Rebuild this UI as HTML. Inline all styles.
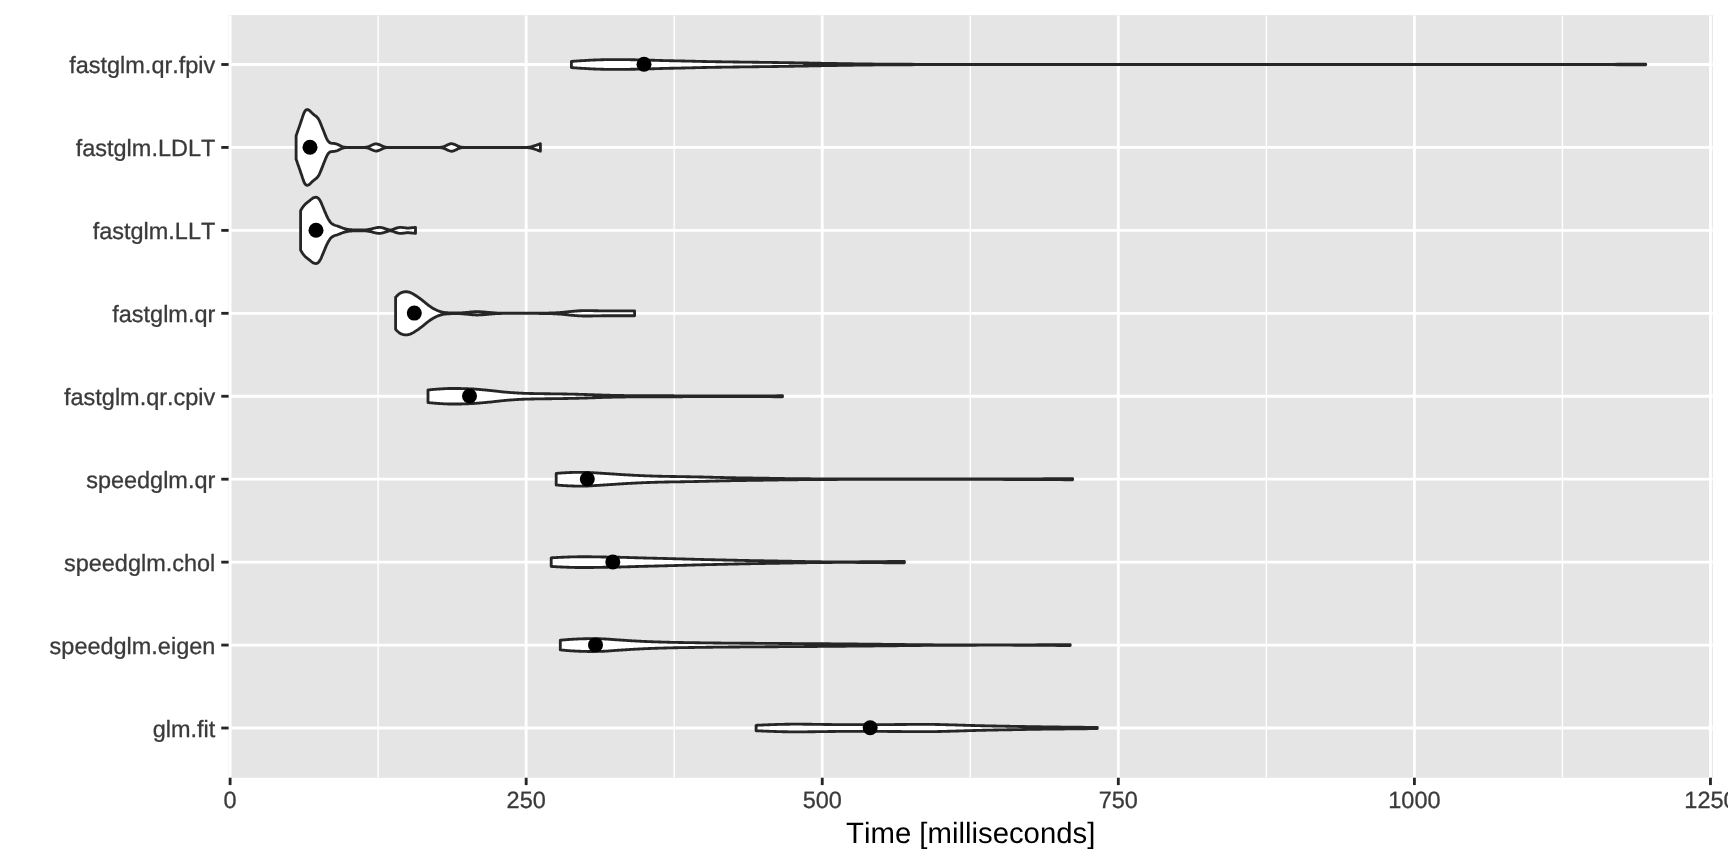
<!DOCTYPE html>
<html lang="en">
<head>
<meta charset="utf-8">
<title>Time [milliseconds]</title>
<style>
html,body{margin:0;padding:0;background:#fff;}
body{width:1728px;height:864px;overflow:hidden;}
svg{display:block;will-change:transform;}
text{font-family:"Liberation Sans","Helvetica","Arial",sans-serif;font-kerning:none;font-variant-ligatures:none;text-rendering:geometricPrecision;}
.ax{font-size:23.47px;fill:#3A3A3A;stroke:#3A3A3A;stroke-width:0.3px;}
.ttl{font-size:29.33px;fill:#000;}
</style>
</head>
<body>
<svg width="1728" height="864" viewBox="0 0 1728 864">
<rect x="0" y="0" width="1728" height="864" fill="#fff"/>
<rect x="228.6" y="15.15" width="1484.2" height="762.6" fill="#E5E5E5"/>
<defs><clipPath id="pc"><rect x="228.6" y="15.15" width="1484.2" height="762.6"/></clipPath></defs>
<g clip-path="url(#pc)">
<g stroke="#fff" stroke-width="1.42" fill="none">
<line x1="378.14" y1="15.15" x2="378.14" y2="777.75"/>
<line x1="674.21" y1="15.15" x2="674.21" y2="777.75"/>
<line x1="970.29" y1="15.15" x2="970.29" y2="777.75"/>
<line x1="1266.36" y1="15.15" x2="1266.36" y2="777.75"/>
<line x1="1562.44" y1="15.15" x2="1562.44" y2="777.75"/>
</g>
<g stroke="#fff" stroke-width="2.84" fill="none">
<line x1="230.10" y1="15.15" x2="230.10" y2="777.75"/>
<line x1="526.17" y1="15.15" x2="526.17" y2="777.75"/>
<line x1="822.25" y1="15.15" x2="822.25" y2="777.75"/>
<line x1="1118.32" y1="15.15" x2="1118.32" y2="777.75"/>
<line x1="1414.40" y1="15.15" x2="1414.40" y2="777.75"/>
<line x1="1710.47" y1="15.15" x2="1710.47" y2="777.75"/>
<line x1="228.6" y1="64.50" x2="1712.85" y2="64.50"/>
<line x1="228.6" y1="147.44" x2="1712.85" y2="147.44"/>
<line x1="228.6" y1="230.38" x2="1712.85" y2="230.38"/>
<line x1="228.6" y1="313.32" x2="1712.85" y2="313.32"/>
<line x1="228.6" y1="396.26" x2="1712.85" y2="396.26"/>
<line x1="228.6" y1="479.20" x2="1712.85" y2="479.20"/>
<line x1="228.6" y1="562.14" x2="1712.85" y2="562.14"/>
<line x1="228.6" y1="645.08" x2="1712.85" y2="645.08"/>
<line x1="228.6" y1="728.02" x2="1712.85" y2="728.02"/>
</g>
<g fill="#fff" stroke="#262626" stroke-width="2.84" stroke-linejoin="round" stroke-linecap="round">
<path d="M571.4 61.40 572.2 61.34 573.0 61.28 573.8 61.22 574.6 61.17 575.4 61.11 576.2 61.05 577.0 61.00 577.8 60.94 578.6 60.89 579.4 60.84 580.2 60.79 581.0 60.74 581.8 60.69 582.6 60.64 583.4 60.59 584.2 60.55 585.0 60.50 585.0 60.50 585.8 60.46 586.5 60.41 587.4 60.37 588.1 60.33 589.0 60.28 589.7 60.24 590.5 60.20 591.3 60.15 592.1 60.11 592.9 60.07 593.7 60.04 594.5 60.00 595.3 59.96 596.1 59.93 596.9 59.90 597.7 59.87 598.5 59.84 599.3 59.82 600.0 59.80 600.1 59.80 600.9 59.78 601.7 59.76 602.5 59.74 603.3 59.72 604.1 59.70 604.9 59.68 605.7 59.66 606.5 59.64 607.3 59.62 608.1 59.61 608.9 59.60 609.7 59.58 610.5 59.57 611.3 59.56 612.1 59.56 612.9 59.55 613.7 59.55 614.0 59.55 614.5 59.55 615.3 59.55 616.1 59.55 616.9 59.56 617.7 59.56 618.5 59.57 619.2 59.57 620.0 59.58 620.9 59.59 621.6 59.59 622.4 59.60 623.2 59.61 624.0 59.62 624.8 59.63 625.6 59.64 626.4 59.65 627.2 59.66 628.0 59.67 628.8 59.68 629.6 59.69 630.0 59.70 630.4 59.71 631.2 59.72 632.0 59.73 632.8 59.74 633.6 59.76 634.4 59.77 635.2 59.79 636.0 59.81 636.8 59.83 637.6 59.84 638.4 59.86 639.2 59.88 640.0 59.90 640.8 59.92 641.6 59.94 642.4 59.96 643.2 59.98 644.0 60.00 644.0 60.00 644.8 60.02 645.6 60.04 646.4 60.06 647.2 60.08 648.0 60.10 648.8 60.13 649.6 60.15 650.4 60.17 651.1 60.20 652.0 60.22 652.8 60.24 653.5 60.27 654.3 60.29 655.1 60.32 655.9 60.34 656.7 60.37 657.5 60.39 658.3 60.41 659.1 60.44 659.9 60.46 660.7 60.48 661.5 60.51 662.3 60.53 663.1 60.55 663.9 60.57 664.7 60.59 665.0 60.60 665.5 60.61 666.3 60.63 667.1 60.65 667.9 60.67 668.7 60.69 669.5 60.71 670.3 60.72 671.1 60.74 671.9 60.76 672.7 60.78 673.5 60.79 674.3 60.81 675.1 60.83 675.9 60.85 676.7 60.86 677.5 60.88 678.3 60.90 679.1 60.91 679.9 60.93 680.7 60.95 681.5 60.96 682.3 60.98 683.1 61.00 683.9 61.01 684.6 61.03 685.5 61.05 686.2 61.06 687.0 61.08 687.8 61.10 688.6 61.12 689.4 61.14 690.0 61.15 690.2 61.16 691.0 61.17 691.8 61.19 692.6 61.22 693.4 61.24 694.2 61.26 695.0 61.28 695.8 61.30 696.6 61.32 697.4 61.34 698.2 61.36 699.0 61.38 699.8 61.40 700.6 61.42 701.4 61.44 702.2 61.46 703.0 61.48 703.8 61.50 704.0 61.50 704.6 61.51 705.4 61.53 706.2 61.54 707.0 61.56 707.8 61.57 708.6 61.59 709.4 61.60 710.2 61.61 711.0 61.63 711.8 61.64 712.6 61.65 713.4 61.67 714.2 61.68 715.0 61.69 715.8 61.71 716.5 61.72 717.4 61.73 718.1 61.74 719.0 61.76 719.7 61.77 720.5 61.78 721.3 61.79 722.1 61.80 722.9 61.81 723.7 61.83 724.5 61.84 725.3 61.85 726.1 61.86 726.9 61.87 727.7 61.88 728.5 61.89 729.3 61.90 730.1 61.91 730.9 61.93 731.7 61.94 732.5 61.95 733.3 61.96 734.1 61.97 734.9 61.98 735.7 61.99 736.5 62.00 737.3 62.01 738.1 62.02 738.9 62.03 739.7 62.05 740.0 62.05 740.5 62.06 741.3 62.07 742.1 62.08 742.9 62.09 743.7 62.10 744.5 62.11 745.3 62.12 746.1 62.13 746.9 62.14 747.7 62.15 748.5 62.16 749.2 62.17 750.0 62.18 750.9 62.19 751.6 62.20 752.4 62.21 753.2 62.22 754.0 62.23 754.8 62.24 755.6 62.25 756.4 62.26 757.2 62.27 758.0 62.28 758.8 62.29 759.6 62.30 760.4 62.31 761.2 62.32 762.0 62.33 762.8 62.34 763.6 62.35 764.4 62.36 765.2 62.37 766.0 62.38 766.8 62.39 767.6 62.40 768.4 62.41 769.2 62.42 770.0 62.43 770.8 62.44 771.6 62.45 772.4 62.46 773.2 62.47 774.0 62.49 774.8 62.50 775.0 62.50 775.6 62.51 776.4 62.52 777.2 62.53 778.0 62.54 778.8 62.55 779.6 62.57 780.4 62.58 781.1 62.59 782.0 62.60 782.8 62.62 783.5 62.63 784.3 62.64 785.1 62.65 785.9 62.67 786.7 62.68 787.5 62.69 788.3 62.70 789.1 62.72 789.9 62.73 790.7 62.74 791.5 62.75 792.3 62.77 793.1 62.78 793.9 62.79 794.7 62.81 795.5 62.82 796.3 62.83 797.1 62.85 797.9 62.86 798.7 62.87 799.5 62.89 800.3 62.90 801.1 62.92 801.9 62.93 802.7 62.94 803.5 62.96 804.3 62.97 805.1 62.98 805.9 63.00 806.0 63.00 806.7 63.01 807.5 63.03 808.3 63.04 809.1 63.06 809.9 63.07 810.7 63.08 811.5 63.10 812.3 63.12 813.1 63.13 813.9 63.15 814.6 63.16 815.5 63.18 816.2 63.19 817.0 63.21 817.8 63.22 818.6 63.24 819.4 63.26 820.2 63.27 821.0 63.29 821.8 63.30 822.6 63.32 823.4 63.33 824.2 63.35 825.0 63.36 825.8 63.38 826.6 63.39 827.4 63.41 828.2 63.42 829.0 63.43 829.8 63.45 830.0 63.45 830.6 63.46 831.4 63.47 835.4 63.54 839.4 63.61 843.4 63.67 847.4 63.73 851.4 63.79 855.4 63.84 859.3 63.89 860.0 63.90 863.3 63.94 867.3 63.98 871.3 64.02 875.3 64.05 879.3 64.09 883.3 64.12 887.3 64.15 891.3 64.18 895.0 64.20 895.3 64.20 899.3 64.22 903.2 64.25 907.2 64.27 911.2 64.29 915.2 64.31 919.2 64.32 923.2 64.34 927.2 64.36 931.2 64.37 935.0 64.38 935.2 64.38 939.2 64.39 943.2 64.40 947.2 64.41 951.1 64.42 955.1 64.43 959.1 64.44 963.1 64.45 967.1 64.46 971.1 64.46 975.1 64.47 979.1 64.47 980.0 64.47 983.1 64.47 987.1 64.47 991.1 64.48 995.1 64.48 999.0 64.48 1003.0 64.48 1007.0 64.48 1011.0 64.48 1015.0 64.49 1019.0 64.49 1023.0 64.49 1027.0 64.49 1031.0 64.49 1035.0 64.49 1039.0 64.49 1043.0 64.49 1047.0 64.49 1050.9 64.50 1054.9 64.50 1058.9 64.50 1062.9 64.50 1066.9 64.50 1070.9 64.50 1074.9 64.50 1078.9 64.50 1082.9 64.50 1086.9 64.50 1090.9 64.50 1094.8 64.50 1098.8 64.50 1100.0 64.50 1102.8 64.50 1106.8 64.50 1110.8 64.50 1114.8 64.50 1118.8 64.50 1122.8 64.50 1126.8 64.50 1130.8 64.50 1134.8 64.50 1138.8 64.50 1142.8 64.50 1146.7 64.50 1150.7 64.50 1154.7 64.50 1158.7 64.50 1162.7 64.50 1166.7 64.50 1170.7 64.50 1174.7 64.50 1178.7 64.50 1182.7 64.50 1186.7 64.50 1190.7 64.50 1194.6 64.50 1198.6 64.50 1202.6 64.50 1206.6 64.50 1210.6 64.50 1214.6 64.50 1218.6 64.50 1222.6 64.50 1226.6 64.50 1230.6 64.50 1234.6 64.50 1238.5 64.50 1242.5 64.50 1246.5 64.50 1250.5 64.50 1254.5 64.50 1258.5 64.50 1262.5 64.50 1266.5 64.50 1270.5 64.50 1274.5 64.50 1278.5 64.50 1282.5 64.50 1286.5 64.50 1290.4 64.50 1294.4 64.50 1298.4 64.50 1302.4 64.50 1306.4 64.50 1310.4 64.50 1314.4 64.50 1318.4 64.50 1322.4 64.50 1326.4 64.50 1330.4 64.50 1334.3 64.50 1338.3 64.50 1342.3 64.50 1346.3 64.50 1350.3 64.50 1354.3 64.50 1358.3 64.50 1362.3 64.50 1366.3 64.50 1370.3 64.50 1374.3 64.50 1378.3 64.50 1382.2 64.50 1386.2 64.50 1390.2 64.50 1394.2 64.50 1398.2 64.50 1400.0 64.50 1402.2 64.50 1406.2 64.50 1410.2 64.50 1414.2 64.50 1418.2 64.50 1422.2 64.50 1426.2 64.50 1430.2 64.50 1434.1 64.50 1438.1 64.49 1442.1 64.49 1446.1 64.49 1450.1 64.49 1454.1 64.49 1458.1 64.49 1462.1 64.49 1466.1 64.48 1470.1 64.48 1474.1 64.48 1478.0 64.48 1482.0 64.47 1486.0 64.47 1490.0 64.47 1494.0 64.47 1498.0 64.46 1502.0 64.46 1506.0 64.46 1510.0 64.45 1514.0 64.45 1518.0 64.45 1522.0 64.44 1526.0 64.44 1529.9 64.44 1533.9 64.43 1537.9 64.43 1541.9 64.42 1545.9 64.42 1549.9 64.42 1553.9 64.41 1557.9 64.41 1561.9 64.40 1565.9 64.40 1569.9 64.39 1573.8 64.39 1577.8 64.38 1581.8 64.38 1585.8 64.37 1589.8 64.36 1593.8 64.36 1597.8 64.35 1600.0 64.35 1601.8 64.35 1605.8 64.34 1609.8 64.33 1613.8 64.31 1617.8 64.29 1621.8 64.28 1625.7 64.26 1629.7 64.23 1633.7 64.21 1637.7 64.19 1641.7 64.17 1645.7 64.15 1645.7 64.85 1641.7 64.83 1637.7 64.81 1633.7 64.79 1629.7 64.77 1625.7 64.74 1621.8 64.72 1617.8 64.71 1613.8 64.69 1609.8 64.67 1605.8 64.66 1601.8 64.65 1600.0 64.65 1597.8 64.65 1593.8 64.64 1589.8 64.64 1585.8 64.63 1581.8 64.62 1577.8 64.62 1573.8 64.61 1569.9 64.61 1565.9 64.60 1561.9 64.60 1557.9 64.59 1553.9 64.59 1549.9 64.58 1545.9 64.58 1541.9 64.58 1537.9 64.57 1533.9 64.57 1529.9 64.56 1526.0 64.56 1522.0 64.56 1518.0 64.55 1514.0 64.55 1510.0 64.55 1506.0 64.54 1502.0 64.54 1498.0 64.54 1494.0 64.53 1490.0 64.53 1486.0 64.53 1482.0 64.53 1478.0 64.52 1474.1 64.52 1470.1 64.52 1466.1 64.52 1462.1 64.51 1458.1 64.51 1454.1 64.51 1450.1 64.51 1446.1 64.51 1442.1 64.51 1438.1 64.51 1434.1 64.50 1430.2 64.50 1426.2 64.50 1422.2 64.50 1418.2 64.50 1414.2 64.50 1410.2 64.50 1406.2 64.50 1402.2 64.50 1400.0 64.50 1398.2 64.50 1394.2 64.50 1390.2 64.50 1386.2 64.50 1382.2 64.50 1378.3 64.50 1374.3 64.50 1370.3 64.50 1366.3 64.50 1362.3 64.50 1358.3 64.50 1354.3 64.50 1350.3 64.50 1346.3 64.50 1342.3 64.50 1338.3 64.50 1334.3 64.50 1330.4 64.50 1326.4 64.50 1322.4 64.50 1318.4 64.50 1314.4 64.50 1310.4 64.50 1306.4 64.50 1302.4 64.50 1298.4 64.50 1294.4 64.50 1290.4 64.50 1286.5 64.50 1282.5 64.50 1278.5 64.50 1274.5 64.50 1270.5 64.50 1266.5 64.50 1262.5 64.50 1258.5 64.50 1254.5 64.50 1250.5 64.50 1246.5 64.50 1242.5 64.50 1238.5 64.50 1234.6 64.50 1230.6 64.50 1226.6 64.50 1222.6 64.50 1218.6 64.50 1214.6 64.50 1210.6 64.50 1206.6 64.50 1202.6 64.50 1198.6 64.50 1194.6 64.50 1190.7 64.50 1186.7 64.50 1182.7 64.50 1178.7 64.50 1174.7 64.50 1170.7 64.50 1166.7 64.50 1162.7 64.50 1158.7 64.50 1154.7 64.50 1150.7 64.50 1146.7 64.50 1142.8 64.50 1138.8 64.50 1134.8 64.50 1130.8 64.50 1126.8 64.50 1122.8 64.50 1118.8 64.50 1114.8 64.50 1110.8 64.50 1106.8 64.50 1102.8 64.50 1100.0 64.50 1098.8 64.50 1094.8 64.50 1090.9 64.50 1086.9 64.50 1082.9 64.50 1078.9 64.50 1074.9 64.50 1070.9 64.50 1066.9 64.50 1062.9 64.50 1058.9 64.50 1054.9 64.50 1050.9 64.50 1047.0 64.51 1043.0 64.51 1039.0 64.51 1035.0 64.51 1031.0 64.51 1027.0 64.51 1023.0 64.51 1019.0 64.51 1015.0 64.51 1011.0 64.52 1007.0 64.52 1003.0 64.52 999.0 64.52 995.1 64.52 991.1 64.52 987.1 64.53 983.1 64.53 980.0 64.53 979.1 64.53 975.1 64.53 971.1 64.54 967.1 64.54 963.1 64.55 959.1 64.56 955.1 64.57 951.1 64.58 947.2 64.59 943.2 64.60 939.2 64.61 935.2 64.62 935.0 64.62 931.2 64.63 927.2 64.64 923.2 64.66 919.2 64.68 915.2 64.69 911.2 64.71 907.2 64.73 903.2 64.75 899.3 64.78 895.3 64.80 895.0 64.80 891.3 64.82 887.3 64.85 883.3 64.88 879.3 64.91 875.3 64.95 871.3 64.98 867.3 65.02 863.3 65.06 860.0 65.10 859.3 65.11 855.4 65.16 851.4 65.21 847.4 65.27 843.4 65.33 839.4 65.39 835.4 65.46 831.4 65.53 830.6 65.54 830.0 65.55 829.8 65.55 829.0 65.57 828.2 65.58 827.4 65.59 826.6 65.61 825.8 65.62 825.0 65.64 824.2 65.65 823.4 65.67 822.6 65.68 821.8 65.70 821.0 65.71 820.2 65.73 819.4 65.74 818.6 65.76 817.8 65.78 817.0 65.79 816.2 65.81 815.5 65.82 814.6 65.84 813.9 65.85 813.1 65.87 812.3 65.88 811.5 65.90 810.7 65.92 809.9 65.93 809.1 65.94 808.3 65.96 807.5 65.97 806.7 65.99 806.0 66.00 805.9 66.00 805.1 66.02 804.3 66.03 803.5 66.04 802.7 66.06 801.9 66.07 801.1 66.08 800.3 66.10 799.5 66.11 798.7 66.13 797.9 66.14 797.1 66.15 796.3 66.17 795.5 66.18 794.7 66.19 793.9 66.21 793.1 66.22 792.3 66.23 791.5 66.25 790.7 66.26 789.9 66.27 789.1 66.28 788.3 66.30 787.5 66.31 786.7 66.32 785.9 66.33 785.1 66.35 784.3 66.36 783.5 66.37 782.8 66.38 782.0 66.40 781.1 66.41 780.4 66.42 779.6 66.43 778.8 66.45 778.0 66.46 777.2 66.47 776.4 66.48 775.6 66.49 775.0 66.50 774.8 66.50 774.0 66.51 773.2 66.53 772.4 66.54 771.6 66.55 770.8 66.56 770.0 66.57 769.2 66.58 768.4 66.59 767.6 66.60 766.8 66.61 766.0 66.62 765.2 66.63 764.4 66.64 763.6 66.65 762.8 66.66 762.0 66.67 761.2 66.68 760.4 66.69 759.6 66.70 758.8 66.71 758.0 66.72 757.2 66.73 756.4 66.74 755.6 66.75 754.8 66.76 754.0 66.77 753.2 66.78 752.4 66.79 751.6 66.80 750.9 66.81 750.0 66.82 749.2 66.83 748.5 66.84 747.7 66.85 746.9 66.86 746.1 66.87 745.3 66.88 744.5 66.89 743.7 66.90 742.9 66.91 742.1 66.92 741.3 66.93 740.5 66.94 740.0 66.95 739.7 66.95 738.9 66.97 738.1 66.98 737.3 66.99 736.5 67.00 735.7 67.01 734.9 67.02 734.1 67.03 733.3 67.04 732.5 67.05 731.7 67.06 730.9 67.07 730.1 67.09 729.3 67.10 728.5 67.11 727.7 67.12 726.9 67.13 726.1 67.14 725.3 67.15 724.5 67.16 723.7 67.17 722.9 67.19 722.1 67.20 721.3 67.21 720.5 67.22 719.7 67.23 719.0 67.24 718.1 67.26 717.4 67.27 716.5 67.28 715.8 67.29 715.0 67.31 714.2 67.32 713.4 67.33 712.6 67.35 711.8 67.36 711.0 67.37 710.2 67.39 709.4 67.40 708.6 67.41 707.8 67.43 707.0 67.44 706.2 67.46 705.4 67.47 704.6 67.49 704.0 67.50 703.8 67.50 703.0 67.52 702.2 67.54 701.4 67.56 700.6 67.58 699.8 67.60 699.0 67.62 698.2 67.64 697.4 67.66 696.6 67.68 695.8 67.70 695.0 67.72 694.2 67.74 693.4 67.76 692.6 67.78 691.8 67.81 691.0 67.83 690.2 67.84 690.0 67.85 689.4 67.86 688.6 67.88 687.8 67.90 687.0 67.92 686.2 67.94 685.5 67.95 684.6 67.97 683.9 67.99 683.1 68.00 682.3 68.02 681.5 68.04 680.7 68.05 679.9 68.07 679.1 68.09 678.3 68.10 677.5 68.12 676.7 68.14 675.9 68.15 675.1 68.17 674.3 68.19 673.5 68.21 672.7 68.22 671.9 68.24 671.1 68.26 670.3 68.28 669.5 68.29 668.7 68.31 667.9 68.33 667.1 68.35 666.3 68.37 665.5 68.39 665.0 68.40 664.7 68.41 663.9 68.43 663.1 68.45 662.3 68.47 661.5 68.49 660.7 68.52 659.9 68.54 659.1 68.56 658.3 68.59 657.5 68.61 656.7 68.63 655.9 68.66 655.1 68.68 654.3 68.71 653.5 68.73 652.8 68.76 652.0 68.78 651.1 68.80 650.4 68.83 649.6 68.85 648.8 68.87 648.0 68.90 647.2 68.92 646.4 68.94 645.6 68.96 644.8 68.98 644.0 69.00 644.0 69.00 643.2 69.02 642.4 69.04 641.6 69.06 640.8 69.08 640.0 69.10 639.2 69.12 638.4 69.14 637.6 69.16 636.8 69.17 636.0 69.19 635.2 69.21 634.4 69.23 633.6 69.24 632.8 69.26 632.0 69.27 631.2 69.28 630.4 69.29 630.0 69.30 629.6 69.31 628.8 69.32 628.0 69.33 627.2 69.34 626.4 69.35 625.6 69.36 624.8 69.37 624.0 69.38 623.2 69.39 622.4 69.40 621.6 69.41 620.9 69.41 620.0 69.42 619.2 69.43 618.5 69.43 617.7 69.44 616.9 69.44 616.1 69.45 615.3 69.45 614.5 69.45 614.0 69.45 613.7 69.45 612.9 69.45 612.1 69.44 611.3 69.44 610.5 69.43 609.7 69.42 608.9 69.40 608.1 69.39 607.3 69.38 606.5 69.36 605.7 69.34 604.9 69.32 604.1 69.30 603.3 69.28 602.5 69.26 601.7 69.24 600.9 69.22 600.1 69.20 600.0 69.20 599.3 69.18 598.5 69.16 597.7 69.13 596.9 69.10 596.1 69.07 595.3 69.04 594.5 69.00 593.7 68.96 592.9 68.93 592.1 68.89 591.3 68.85 590.5 68.80 589.7 68.76 589.0 68.72 588.1 68.67 587.4 68.63 586.5 68.59 585.8 68.54 585.0 68.50 585.0 68.50 584.2 68.45 583.4 68.41 582.6 68.36 581.8 68.31 581.0 68.26 580.2 68.21 579.4 68.16 578.6 68.11 577.8 68.06 577.0 68.00 576.2 67.95 575.4 67.89 574.6 67.83 573.8 67.78 573.0 67.72 572.2 67.66 571.4 67.60Z"/>
<path d="M296.1 135.64 296.9 133.54 297.6 131.38 298.4 129.17 299.1 127.34 299.2 126.94 300.0 124.59 300.8 122.18 301.6 119.80 301.9 119.04 302.4 117.42 303.2 115.02 304.0 112.97 304.1 112.84 304.8 111.36 305.5 110.44 305.6 110.33 306.4 109.77 307.2 109.54 307.2 109.54 308.0 109.72 308.8 110.10 309.1 110.24 309.6 110.61 310.4 111.42 311.2 112.26 311.3 112.34 312.0 113.00 312.8 113.73 313.6 114.43 314.1 114.84 314.4 115.10 315.2 115.68 316.0 116.26 316.8 116.95 316.9 117.04 317.6 117.83 318.4 118.92 318.8 119.54 319.2 120.30 320.0 122.12 320.8 124.04 321.6 125.99 322.4 128.02 323.0 129.54 323.2 130.05 324.0 132.11 324.8 134.16 325.2 135.14 325.6 136.11 326.4 137.99 326.9 139.04 327.2 139.59 328.0 140.98 328.6 141.74 328.8 141.91 329.6 142.57 330.4 143.02 330.8 143.14 331.2 143.21 332.0 143.30 332.8 143.36 333.6 143.43 334.1 143.49 334.4 143.53 335.2 143.69 336.0 143.88 336.8 144.10 336.9 144.14 337.6 144.38 338.4 144.75 339.2 145.14 339.7 145.39 340.0 145.52 340.8 145.93 341.6 146.32 342.4 146.63 342.4 146.64 343.2 146.86 344.0 147.06 344.8 147.20 345.2 147.24 345.6 147.26 346.4 147.30 347.2 147.33 347.9 147.34 348.0 147.34 348.8 147.34 349.6 147.34 350.4 147.34 351.1 147.34 351.9 147.34 352.8 147.34 353.5 147.34 354.3 147.34 355.1 147.34 355.9 147.34 356.7 147.34 357.5 147.34 358.3 147.34 359.1 147.34 359.9 147.34 360.7 147.34 361.5 147.34 362.3 147.34 363.1 147.34 363.9 147.34 364.0 147.34 364.7 147.32 365.5 147.25 366.3 147.14 367.1 147.01 367.5 146.94 367.9 146.84 368.7 146.55 369.5 146.19 370.3 145.82 370.5 145.74 371.1 145.47 371.9 145.09 372.7 144.73 373.5 144.44 373.5 144.44 374.3 144.19 375.1 143.97 375.9 143.85 376.1 143.84 376.7 143.89 377.5 144.07 378.3 144.32 378.7 144.44 379.1 144.57 379.9 144.91 380.7 145.28 381.5 145.65 381.7 145.74 382.3 146.00 383.1 146.38 383.9 146.71 384.7 146.94 384.7 146.94 385.5 147.08 386.3 147.21 387.1 147.30 387.9 147.34 388.0 147.34 388.7 147.34 389.5 147.34 390.3 147.34 391.1 147.34 391.9 147.34 392.7 147.34 393.5 147.34 394.3 147.34 395.1 147.34 395.9 147.34 396.7 147.34 397.5 147.34 398.3 147.34 399.1 147.34 399.9 147.34 400.7 147.34 401.5 147.34 402.2 147.34 403.1 147.34 403.9 147.34 404.6 147.34 405.4 147.34 406.2 147.34 407.1 147.34 407.8 147.34 408.6 147.34 409.4 147.34 410.2 147.34 411.0 147.34 411.8 147.34 412.6 147.34 413.4 147.34 414.2 147.34 415.0 147.34 415.8 147.34 416.6 147.34 417.4 147.34 418.2 147.34 419.0 147.34 419.8 147.34 420.6 147.34 421.4 147.34 422.2 147.34 423.0 147.34 423.8 147.34 424.6 147.34 425.4 147.34 426.2 147.34 427.0 147.34 427.8 147.34 428.6 147.34 429.4 147.34 430.2 147.34 431.0 147.34 431.8 147.34 432.6 147.34 433.4 147.34 434.2 147.34 435.0 147.34 435.8 147.34 436.6 147.34 437.4 147.34 438.2 147.34 439.0 147.34 439.0 147.34 439.8 147.31 440.6 147.24 441.4 147.13 442.2 147.00 442.5 146.94 443.0 146.83 443.8 146.56 444.6 146.23 445.4 145.89 445.5 145.84 446.2 145.54 447.0 145.13 447.8 144.73 448.5 144.44 448.6 144.42 449.4 144.13 450.2 143.86 451.0 143.68 451.5 143.64 451.8 143.65 452.6 143.79 453.4 144.03 454.2 144.32 454.5 144.44 455.0 144.62 455.8 144.99 456.6 145.40 457.4 145.78 457.5 145.84 458.1 146.12 458.9 146.46 459.8 146.75 460.5 146.94 460.6 146.95 461.4 147.09 462.1 147.20 462.9 147.29 463.7 147.34 464.0 147.34 464.5 147.34 465.3 147.34 466.1 147.34 466.9 147.34 467.7 147.34 468.5 147.34 469.3 147.34 470.1 147.34 470.9 147.34 471.7 147.34 472.5 147.34 473.3 147.34 474.1 147.34 474.9 147.34 475.7 147.34 476.5 147.34 477.3 147.34 478.1 147.34 478.9 147.34 479.7 147.34 480.5 147.34 481.3 147.34 482.1 147.34 482.9 147.34 483.7 147.34 484.5 147.34 485.3 147.34 486.1 147.34 486.9 147.34 487.7 147.34 488.5 147.34 489.3 147.34 490.1 147.34 490.9 147.34 491.7 147.34 492.5 147.34 493.3 147.34 494.1 147.34 494.9 147.34 495.7 147.34 496.5 147.34 497.3 147.34 498.1 147.34 498.9 147.34 499.7 147.34 500.5 147.34 501.3 147.34 502.1 147.34 502.9 147.34 503.7 147.34 504.5 147.34 505.3 147.34 506.1 147.34 506.9 147.34 507.7 147.34 508.5 147.34 509.3 147.34 510.1 147.34 510.9 147.34 511.6 147.34 512.5 147.34 513.2 147.34 514.0 147.34 514.9 147.34 515.6 147.34 516.4 147.34 517.2 147.34 518.0 147.34 518.8 147.34 519.6 147.34 520.4 147.34 521.2 147.34 522.0 147.34 522.8 147.34 523.6 147.34 524.4 147.34 525.2 147.34 526.0 147.34 526.0 147.34 526.8 147.32 527.6 147.25 528.4 147.16 529.2 147.05 530.0 146.94 530.0 146.94 530.8 146.79 531.6 146.60 532.4 146.38 533.2 146.14 534.0 145.89 534.5 145.74 534.8 145.65 535.6 145.39 536.4 145.13 537.2 144.85 538.0 144.57 538.8 144.27 539.6 143.96 540.4 143.64 540.4 151.24 539.6 150.92 538.8 150.61 538.0 150.31 537.2 150.03 536.4 149.75 535.6 149.49 534.8 149.23 534.5 149.14 534.0 148.99 533.2 148.74 532.4 148.50 531.6 148.28 530.8 148.09 530.0 147.94 530.0 147.94 529.2 147.83 528.4 147.72 527.6 147.63 526.8 147.56 526.0 147.54 526.0 147.54 525.2 147.54 524.4 147.54 523.6 147.54 522.8 147.54 522.0 147.54 521.2 147.54 520.4 147.54 519.6 147.54 518.8 147.54 518.0 147.54 517.2 147.54 516.4 147.54 515.6 147.54 514.9 147.54 514.0 147.54 513.2 147.54 512.5 147.54 511.6 147.54 510.9 147.54 510.1 147.54 509.3 147.54 508.5 147.54 507.7 147.54 506.9 147.54 506.1 147.54 505.3 147.54 504.5 147.54 503.7 147.54 502.9 147.54 502.1 147.54 501.3 147.54 500.5 147.54 499.7 147.54 498.9 147.54 498.1 147.54 497.3 147.54 496.5 147.54 495.7 147.54 494.9 147.54 494.1 147.54 493.3 147.54 492.5 147.54 491.7 147.54 490.9 147.54 490.1 147.54 489.3 147.54 488.5 147.54 487.7 147.54 486.9 147.54 486.1 147.54 485.3 147.54 484.5 147.54 483.7 147.54 482.9 147.54 482.1 147.54 481.3 147.54 480.5 147.54 479.7 147.54 478.9 147.54 478.1 147.54 477.3 147.54 476.5 147.54 475.7 147.54 474.9 147.54 474.1 147.54 473.3 147.54 472.5 147.54 471.7 147.54 470.9 147.54 470.1 147.54 469.3 147.54 468.5 147.54 467.7 147.54 466.9 147.54 466.1 147.54 465.3 147.54 464.5 147.54 464.0 147.54 463.7 147.54 462.9 147.59 462.1 147.68 461.4 147.79 460.6 147.93 460.5 147.94 459.8 148.13 458.9 148.42 458.1 148.76 457.5 149.04 457.4 149.10 456.6 149.48 455.8 149.89 455.0 150.26 454.5 150.44 454.2 150.56 453.4 150.85 452.6 151.09 451.8 151.23 451.5 151.24 451.0 151.20 450.2 151.02 449.4 150.75 448.6 150.46 448.5 150.44 447.8 150.15 447.0 149.75 446.2 149.34 445.5 149.04 445.4 148.99 444.6 148.65 443.8 148.32 443.0 148.05 442.5 147.94 442.2 147.88 441.4 147.75 440.6 147.64 439.8 147.57 439.0 147.54 439.0 147.54 438.2 147.54 437.4 147.54 436.6 147.54 435.8 147.54 435.0 147.54 434.2 147.54 433.4 147.54 432.6 147.54 431.8 147.54 431.0 147.54 430.2 147.54 429.4 147.54 428.6 147.54 427.8 147.54 427.0 147.54 426.2 147.54 425.4 147.54 424.6 147.54 423.8 147.54 423.0 147.54 422.2 147.54 421.4 147.54 420.6 147.54 419.8 147.54 419.0 147.54 418.2 147.54 417.4 147.54 416.6 147.54 415.8 147.54 415.0 147.54 414.2 147.54 413.4 147.54 412.6 147.54 411.8 147.54 411.0 147.54 410.2 147.54 409.4 147.54 408.6 147.54 407.8 147.54 407.1 147.54 406.2 147.54 405.4 147.54 404.6 147.54 403.9 147.54 403.1 147.54 402.2 147.54 401.5 147.54 400.7 147.54 399.9 147.54 399.1 147.54 398.3 147.54 397.5 147.54 396.7 147.54 395.9 147.54 395.1 147.54 394.3 147.54 393.5 147.54 392.7 147.54 391.9 147.54 391.1 147.54 390.3 147.54 389.5 147.54 388.7 147.54 388.0 147.54 387.9 147.54 387.1 147.58 386.3 147.67 385.5 147.80 384.7 147.94 384.7 147.94 383.9 148.17 383.1 148.50 382.3 148.88 381.7 149.14 381.5 149.23 380.7 149.60 379.9 149.97 379.1 150.31 378.7 150.44 378.3 150.56 377.5 150.81 376.7 150.99 376.1 151.04 375.9 151.03 375.1 150.91 374.3 150.69 373.5 150.44 373.5 150.44 372.7 150.15 371.9 149.79 371.1 149.41 370.5 149.14 370.3 149.06 369.5 148.69 368.7 148.33 367.9 148.04 367.5 147.94 367.1 147.87 366.3 147.74 365.5 147.63 364.7 147.56 364.0 147.54 363.9 147.54 363.1 147.54 362.3 147.54 361.5 147.54 360.7 147.54 359.9 147.54 359.1 147.54 358.3 147.54 357.5 147.54 356.7 147.54 355.9 147.54 355.1 147.54 354.3 147.54 353.5 147.54 352.8 147.54 351.9 147.54 351.1 147.54 350.4 147.54 349.6 147.54 348.8 147.54 348.0 147.54 347.9 147.54 347.2 147.55 346.4 147.58 345.6 147.62 345.2 147.64 344.8 147.68 344.0 147.82 343.2 148.02 342.4 148.24 342.4 148.25 341.6 148.56 340.8 148.95 340.0 149.36 339.7 149.49 339.2 149.74 338.4 150.13 337.6 150.50 336.9 150.74 336.8 150.78 336.0 151.00 335.2 151.19 334.4 151.35 334.1 151.39 333.6 151.45 332.8 151.52 332.0 151.58 331.2 151.67 330.8 151.74 330.4 151.86 329.6 152.31 328.8 152.97 328.6 153.14 328.0 153.90 327.2 155.29 326.9 155.84 326.4 156.89 325.6 158.77 325.2 159.74 324.8 160.72 324.0 162.77 323.2 164.83 323.0 165.34 322.4 166.86 321.6 168.89 320.8 170.84 320.0 172.76 319.2 174.58 318.8 175.34 318.4 175.96 317.6 177.05 316.9 177.84 316.8 177.93 316.0 178.62 315.2 179.20 314.4 179.78 314.1 180.04 313.6 180.45 312.8 181.15 312.0 181.88 311.3 182.54 311.2 182.62 310.4 183.46 309.6 184.27 309.1 184.64 308.8 184.78 308.0 185.16 307.2 185.34 307.2 185.34 306.4 185.11 305.6 184.55 305.5 184.44 304.8 183.52 304.1 182.04 304.0 181.91 303.2 179.86 302.4 177.46 301.9 175.84 301.6 175.08 300.8 172.70 300.0 170.29 299.2 167.94 299.1 167.54 298.4 165.71 297.6 163.50 296.9 161.34 296.1 159.24Z"/>
<path d="M300.6 210.78 301.4 209.32 302.2 207.99 303.0 206.83 303.1 206.68 303.8 205.81 304.6 204.89 305.4 204.06 305.9 203.58 306.2 203.32 307.0 202.68 307.8 202.08 308.6 201.48 308.7 201.38 309.4 200.82 310.2 200.14 311.0 199.50 311.4 199.18 311.8 198.90 312.6 198.30 313.4 197.82 313.7 197.68 314.2 197.53 315.0 197.30 315.8 197.18 315.9 197.18 316.6 197.29 317.4 197.64 318.1 198.08 318.1 198.11 318.9 198.94 319.8 200.16 320.3 201.08 320.6 201.52 321.4 203.18 322.1 205.01 322.6 206.08 322.9 206.87 323.7 208.81 324.5 210.76 324.8 211.38 325.3 212.67 326.1 214.56 326.9 216.34 327.0 216.48 327.7 217.93 328.5 219.40 329.2 220.48 329.3 220.67 330.1 221.82 330.9 222.82 331.4 223.28 331.7 223.54 332.5 224.10 333.3 224.56 334.1 224.94 334.2 224.98 334.9 225.25 335.7 225.51 336.5 225.74 337.3 225.98 337.6 226.08 338.1 226.26 338.9 226.56 339.7 226.87 340.5 227.18 340.9 227.33 341.3 227.47 342.1 227.77 342.9 228.06 343.7 228.32 344.2 228.48 344.5 228.56 345.3 228.79 346.1 229.01 346.9 229.19 347.6 229.33 347.7 229.34 348.5 229.46 349.3 229.57 350.1 229.66 350.9 229.73 350.9 229.73 351.7 229.78 352.5 229.84 353.3 229.88 354.1 229.92 354.9 229.95 355.7 229.98 355.9 229.98 356.4 229.99 357.2 230.00 358.1 230.01 358.9 230.02 359.6 230.03 360.4 230.03 361.0 230.03 361.2 230.03 362.0 230.02 362.8 229.99 363.6 229.95 364.4 229.91 365.0 229.88 365.2 229.87 366.0 229.80 366.8 229.72 367.6 229.62 368.3 229.53 368.4 229.51 369.2 229.38 370.0 229.22 370.8 229.05 371.6 228.87 372.0 228.78 372.4 228.68 373.2 228.47 374.0 228.25 374.8 228.03 375.6 227.85 376.0 227.78 376.4 227.71 377.2 227.58 378.0 227.47 378.8 227.39 379.3 227.38 379.6 227.39 380.4 227.44 381.2 227.55 382.0 227.69 382.5 227.78 382.8 227.84 383.6 228.06 384.4 228.33 385.2 228.62 386.0 228.87 386.0 228.88 386.8 229.12 387.6 229.38 388.4 229.63 389.2 229.82 390.0 229.92 390.2 229.93 390.8 229.89 391.6 229.74 392.4 229.51 393.2 229.25 394.0 228.99 394.0 228.98 394.8 228.73 395.6 228.41 396.4 228.11 397.1 227.86 397.5 227.78 397.9 227.70 398.7 227.56 399.5 227.44 400.3 227.38 400.6 227.38 401.1 227.39 401.9 227.45 402.7 227.54 403.5 227.63 404.0 227.68 404.3 227.71 405.1 227.82 405.9 227.92 406.7 228.02 407.5 228.07 407.9 228.08 408.3 228.07 409.1 228.02 409.9 227.95 410.7 227.86 411.5 227.78 411.5 227.78 412.3 227.70 413.1 227.63 413.9 227.55 414.7 227.47 415.5 227.38 415.5 233.38 414.7 233.29 413.9 233.21 413.1 233.13 412.3 233.06 411.5 232.98 411.5 232.98 410.7 232.90 409.9 232.81 409.1 232.74 408.3 232.69 407.9 232.68 407.5 232.69 406.7 232.74 405.9 232.84 405.1 232.94 404.3 233.05 404.0 233.08 403.5 233.13 402.7 233.22 401.9 233.31 401.1 233.37 400.6 233.38 400.3 233.38 399.5 233.32 398.7 233.20 397.9 233.06 397.5 232.98 397.1 232.90 396.4 232.65 395.6 232.35 394.8 232.03 394.0 231.78 394.0 231.77 393.2 231.51 392.4 231.25 391.6 231.02 390.8 230.87 390.2 230.83 390.0 230.84 389.2 230.94 388.4 231.13 387.6 231.38 386.8 231.64 386.0 231.88 386.0 231.89 385.2 232.14 384.4 232.43 383.6 232.70 382.8 232.92 382.5 232.98 382.0 233.07 381.2 233.21 380.4 233.32 379.6 233.37 379.3 233.38 378.8 233.37 378.0 233.29 377.2 233.18 376.4 233.05 376.0 232.98 375.6 232.91 374.8 232.73 374.0 232.51 373.2 232.29 372.4 232.08 372.0 231.98 371.6 231.89 370.8 231.71 370.0 231.54 369.2 231.38 368.4 231.25 368.3 231.23 367.6 231.14 366.8 231.04 366.0 230.96 365.2 230.89 365.0 230.88 364.4 230.85 363.6 230.81 362.8 230.77 362.0 230.74 361.2 230.73 361.0 230.73 360.4 230.73 359.6 230.73 358.9 230.74 358.1 230.75 357.2 230.76 356.4 230.77 355.9 230.78 355.7 230.78 354.9 230.81 354.1 230.84 353.3 230.88 352.5 230.92 351.7 230.98 350.9 231.03 350.9 231.03 350.1 231.10 349.3 231.19 348.5 231.30 347.7 231.42 347.6 231.43 346.9 231.57 346.1 231.75 345.3 231.97 344.5 232.20 344.2 232.28 343.7 232.44 342.9 232.70 342.1 232.99 341.3 233.29 340.9 233.43 340.5 233.58 339.7 233.89 338.9 234.20 338.1 234.50 337.6 234.68 337.3 234.78 336.5 235.02 335.7 235.25 334.9 235.51 334.2 235.78 334.1 235.82 333.3 236.20 332.5 236.66 331.7 237.22 331.4 237.48 330.9 237.94 330.1 238.94 329.3 240.09 329.2 240.28 328.5 241.36 327.7 242.83 327.0 244.28 326.9 244.42 326.1 246.20 325.3 248.09 324.8 249.38 324.5 250.00 323.7 251.95 322.9 253.89 322.6 254.68 322.1 255.75 321.4 257.58 320.6 259.24 320.3 259.68 319.8 260.60 318.9 261.82 318.1 262.65 318.1 262.68 317.4 263.12 316.6 263.47 315.9 263.58 315.8 263.58 315.0 263.46 314.2 263.23 313.7 263.08 313.4 262.94 312.6 262.46 311.8 261.86 311.4 261.58 311.0 261.26 310.2 260.62 309.4 259.94 308.7 259.38 308.6 259.28 307.8 258.68 307.0 258.08 306.2 257.44 305.9 257.18 305.4 256.70 304.6 255.87 303.8 254.95 303.1 254.08 303.0 253.93 302.2 252.77 301.4 251.44 300.6 249.98Z"/>
<path d="M395.6 297.32 396.4 296.45 397.2 295.65 398.0 294.92 398.8 294.24 399.6 293.62 400.4 293.12 401.2 292.73 402.0 292.41 402.8 292.17 403.0 292.12 403.6 292.00 404.4 291.86 405.2 291.75 405.9 291.72 406.0 291.72 406.8 291.77 407.6 291.87 408.4 292.00 408.5 292.02 409.2 292.18 410.0 292.46 410.8 292.80 411.5 293.12 411.6 293.16 412.4 293.55 413.2 293.99 414.0 294.46 414.8 294.96 415.6 295.48 416.4 296.01 417.0 296.42 417.2 296.54 418.0 297.08 418.8 297.65 419.6 298.23 420.4 298.82 421.2 299.43 422.0 300.04 422.6 300.52 422.8 300.66 423.6 301.30 424.4 301.97 425.2 302.65 426.0 303.32 426.8 303.99 427.6 304.62 428.1 305.02 428.4 305.22 429.2 305.80 430.0 306.37 430.8 306.92 431.6 307.45 432.4 307.96 433.2 308.43 433.7 308.72 434.0 308.86 434.8 309.28 435.6 309.68 436.4 310.07 437.2 310.43 438.0 310.75 438.8 311.04 439.3 311.22 439.6 311.30 440.4 311.54 441.2 311.77 442.0 311.98 442.8 312.17 443.6 312.33 444.4 312.46 444.8 312.52 445.2 312.56 446.0 312.65 446.8 312.73 447.6 312.79 448.4 312.85 449.2 312.89 449.9 312.92 450.0 312.92 450.8 312.94 451.6 312.95 452.4 312.97 453.1 312.98 453.9 312.99 454.8 313.00 455.6 313.01 456.4 313.02 457.1 313.02 457.9 313.02 458.0 313.02 458.8 313.01 459.6 312.99 460.4 312.95 461.1 312.91 461.9 312.85 462.7 312.79 463.5 312.72 464.3 312.66 465.1 312.59 465.9 312.52 466.0 312.52 466.7 312.46 467.5 312.37 468.3 312.29 469.1 312.19 469.9 312.10 470.7 312.02 471.5 311.95 472.0 311.92 472.3 311.90 473.1 311.84 473.9 311.79 474.7 311.75 475.5 311.71 476.3 311.68 477.1 311.67 477.2 311.67 477.9 311.68 478.7 311.70 479.5 311.73 480.3 311.77 481.1 311.81 481.9 311.86 482.7 311.90 483.0 311.92 483.5 311.95 484.3 312.01 485.1 312.08 485.9 312.15 486.7 312.23 487.5 312.30 488.3 312.38 489.1 312.45 489.9 312.51 490.0 312.52 490.7 312.58 491.5 312.64 492.3 312.71 493.1 312.77 493.9 312.84 494.7 312.91 495.5 312.97 496.3 313.02 497.1 313.07 497.9 313.11 498.7 313.14 499.5 313.16 500.0 313.17 500.3 313.17 501.1 313.18 501.9 313.19 502.7 313.19 503.5 313.20 504.3 313.20 505.1 313.21 505.9 313.21 506.7 313.22 507.5 313.22 508.3 313.23 509.1 313.23 509.9 313.24 510.7 313.24 511.5 313.24 512.3 313.25 513.1 313.25 513.9 313.25 514.7 313.25 515.5 313.26 516.3 313.26 517.1 313.26 517.9 313.26 518.7 313.26 519.5 313.27 520.3 313.27 521.1 313.27 521.9 313.27 522.7 313.27 523.5 313.27 524.3 313.27 525.0 313.27 525.1 313.27 525.9 313.27 526.7 313.27 527.5 313.27 528.3 313.27 529.1 313.26 529.9 313.26 530.7 313.26 531.5 313.25 532.3 313.25 533.1 313.24 533.9 313.24 534.7 313.23 535.5 313.22 536.3 313.21 537.1 313.21 537.9 313.20 538.7 313.19 539.5 313.18 540.3 313.17 541.1 313.16 541.9 313.15 542.7 313.14 543.5 313.13 544.3 313.12 545.1 313.10 545.9 313.09 546.7 313.08 547.5 313.06 548.3 313.05 549.1 313.04 549.9 313.02 550.0 313.02 550.7 313.01 551.5 312.98 552.3 312.96 553.1 312.92 553.9 312.89 554.7 312.85 555.5 312.80 556.3 312.76 557.1 312.71 557.9 312.66 558.7 312.60 559.5 312.55 560.3 312.49 561.1 312.44 561.9 312.38 562.0 312.37 562.7 312.32 563.5 312.25 564.3 312.17 565.1 312.09 565.9 312.01 566.7 311.92 567.5 311.83 568.3 311.74 569.0 311.65 569.9 311.56 570.6 311.49 571.5 311.41 572.0 311.37 572.2 311.35 573.0 311.29 573.9 311.22 574.6 311.15 575.5 311.09 576.2 311.02 577.0 310.96 577.9 310.90 578.6 310.84 579.5 310.79 580.2 310.75 581.0 310.72 581.8 310.69 582.6 310.67 583.3 310.67 583.4 310.67 584.2 310.67 585.0 310.67 585.8 310.67 586.6 310.67 587.4 310.67 588.2 310.67 589.0 310.67 589.8 310.67 590.0 310.67 590.6 310.67 591.4 310.68 592.2 310.68 593.0 310.69 593.8 310.71 594.6 310.72 595.4 310.74 596.2 310.75 597.0 310.77 597.8 310.78 598.6 310.80 599.4 310.81 600.0 310.82 600.2 310.82 601.0 310.83 601.8 310.85 602.6 310.86 603.4 310.87 604.2 310.88 605.0 310.90 605.8 310.91 606.6 310.91 607.4 310.92 608.2 310.92 608.3 310.92 609.0 310.92 609.8 310.92 610.6 310.92 611.4 310.92 612.2 310.92 613.0 310.92 613.8 310.92 614.6 310.92 615.4 310.92 616.2 310.92 617.0 310.92 617.8 310.92 618.6 310.92 619.4 310.92 620.0 310.92 620.2 310.92 621.0 310.92 621.8 310.92 622.6 310.92 623.4 310.92 624.2 310.91 625.0 310.91 625.8 310.91 626.6 310.91 627.4 310.90 628.2 310.90 629.0 310.90 629.8 310.89 630.6 310.89 631.4 310.89 632.2 310.88 633.0 310.88 633.8 310.87 634.6 310.87 634.6 315.77 633.8 315.77 633.0 315.76 632.2 315.76 631.4 315.75 630.6 315.75 629.8 315.75 629.0 315.74 628.2 315.74 627.4 315.74 626.6 315.73 625.8 315.73 625.0 315.73 624.2 315.73 623.4 315.72 622.6 315.72 621.8 315.72 621.0 315.72 620.2 315.72 620.0 315.72 619.4 315.72 618.6 315.72 617.8 315.72 617.0 315.72 616.2 315.72 615.4 315.72 614.6 315.72 613.8 315.72 613.0 315.72 612.2 315.72 611.4 315.72 610.6 315.72 609.8 315.72 609.0 315.72 608.3 315.72 608.2 315.72 607.4 315.72 606.6 315.73 605.8 315.73 605.0 315.74 604.2 315.76 603.4 315.77 602.6 315.78 601.8 315.79 601.0 315.81 600.2 315.82 600.0 315.82 599.4 315.83 598.6 315.84 597.8 315.86 597.0 315.87 596.2 315.89 595.4 315.90 594.6 315.92 593.8 315.93 593.0 315.95 592.2 315.96 591.4 315.96 590.6 315.97 590.0 315.97 589.8 315.97 589.0 315.97 588.2 315.97 587.4 315.97 586.6 315.97 585.8 315.97 585.0 315.97 584.2 315.97 583.4 315.97 583.3 315.97 582.6 315.97 581.8 315.95 581.0 315.92 580.2 315.89 579.5 315.85 578.6 315.80 577.9 315.74 577.0 315.68 576.2 315.62 575.5 315.55 574.6 315.49 573.9 315.42 573.0 315.35 572.2 315.29 572.0 315.27 571.5 315.23 570.6 315.15 569.9 315.08 569.0 314.99 568.3 314.90 567.5 314.81 566.7 314.72 565.9 314.63 565.1 314.55 564.3 314.47 563.5 314.39 562.7 314.32 562.0 314.27 561.9 314.26 561.1 314.20 560.3 314.15 559.5 314.09 558.7 314.04 557.9 313.98 557.1 313.93 556.3 313.88 555.5 313.84 554.7 313.79 553.9 313.75 553.1 313.72 552.3 313.68 551.5 313.66 550.7 313.63 550.0 313.62 549.9 313.62 549.1 313.60 548.3 313.59 547.5 313.58 546.7 313.56 545.9 313.55 545.1 313.54 544.3 313.52 543.5 313.51 542.7 313.50 541.9 313.49 541.1 313.48 540.3 313.47 539.5 313.46 538.7 313.45 537.9 313.44 537.1 313.43 536.3 313.43 535.5 313.42 534.7 313.41 533.9 313.40 533.1 313.40 532.3 313.39 531.5 313.39 530.7 313.38 529.9 313.38 529.1 313.38 528.3 313.37 527.5 313.37 526.7 313.37 525.9 313.37 525.1 313.37 525.0 313.37 524.3 313.37 523.5 313.37 522.7 313.37 521.9 313.37 521.1 313.37 520.3 313.37 519.5 313.37 518.7 313.38 517.9 313.38 517.1 313.38 516.3 313.38 515.5 313.38 514.7 313.39 513.9 313.39 513.1 313.39 512.3 313.39 511.5 313.40 510.7 313.40 509.9 313.40 509.1 313.41 508.3 313.41 507.5 313.42 506.7 313.42 505.9 313.43 505.1 313.43 504.3 313.44 503.5 313.44 502.7 313.45 501.9 313.45 501.1 313.46 500.3 313.47 500.0 313.47 499.5 313.48 498.7 313.50 497.9 313.53 497.1 313.57 496.3 313.62 495.5 313.67 494.7 313.73 493.9 313.80 493.1 313.87 492.3 313.93 491.5 314.00 490.7 314.06 490.0 314.12 489.9 314.13 489.1 314.19 488.3 314.26 487.5 314.34 486.7 314.41 485.9 314.49 485.1 314.56 484.3 314.63 483.5 314.69 483.0 314.72 482.7 314.74 481.9 314.78 481.1 314.83 480.3 314.87 479.5 314.91 478.7 314.94 477.9 314.96 477.2 314.97 477.1 314.97 476.3 314.96 475.5 314.93 474.7 314.89 473.9 314.85 473.1 314.80 472.3 314.74 472.0 314.72 471.5 314.69 470.7 314.62 469.9 314.54 469.1 314.45 468.3 314.35 467.5 314.27 466.7 314.18 466.0 314.12 465.9 314.12 465.1 314.05 464.3 313.98 463.5 313.92 462.7 313.85 461.9 313.79 461.1 313.73 460.4 313.69 459.6 313.65 458.8 313.63 458.0 313.62 457.9 313.62 457.1 313.62 456.4 313.62 455.6 313.63 454.8 313.64 453.9 313.65 453.1 313.66 452.4 313.67 451.6 313.69 450.8 313.70 450.0 313.72 449.9 313.72 449.2 313.75 448.4 313.79 447.6 313.85 446.8 313.91 446.0 313.99 445.2 314.08 444.8 314.12 444.4 314.18 443.6 314.31 442.8 314.47 442.0 314.66 441.2 314.87 440.4 315.10 439.6 315.34 439.3 315.42 438.8 315.60 438.0 315.89 437.2 316.21 436.4 316.57 435.6 316.96 434.8 317.36 434.0 317.78 433.7 317.92 433.2 318.21 432.4 318.68 431.6 319.19 430.8 319.72 430.0 320.27 429.2 320.84 428.4 321.42 428.1 321.62 427.6 322.02 426.8 322.65 426.0 323.32 425.2 323.99 424.4 324.67 423.6 325.34 422.8 325.98 422.6 326.12 422.0 326.60 421.2 327.21 420.4 327.82 419.6 328.41 418.8 328.99 418.0 329.56 417.2 330.10 417.0 330.22 416.4 330.63 415.6 331.16 414.8 331.68 414.0 332.18 413.2 332.65 412.4 333.09 411.6 333.48 411.5 333.52 410.8 333.84 410.0 334.18 409.2 334.46 408.5 334.62 408.4 334.64 407.6 334.77 406.8 334.87 406.0 334.92 405.9 334.92 405.2 334.89 404.4 334.78 403.6 334.64 403.0 334.52 402.8 334.47 402.0 334.23 401.2 333.91 400.4 333.52 399.6 333.02 398.8 332.40 398.0 331.72 397.2 330.99 396.4 330.19 395.6 329.32Z"/>
<path d="M428.0 389.96 428.8 389.88 429.6 389.80 430.4 389.72 431.2 389.64 432.0 389.57 432.8 389.50 433.6 389.43 434.4 389.36 435.2 389.29 436.0 389.23 436.8 389.17 437.6 389.12 438.4 389.06 439.2 389.01 440.0 388.96 440.0 388.96 440.8 388.92 441.6 388.87 442.4 388.82 443.1 388.77 443.9 388.72 444.8 388.68 445.6 388.63 446.3 388.60 447.1 388.57 447.9 388.54 448.7 388.52 449.5 388.51 450.0 388.51 450.3 388.51 451.1 388.51 451.9 388.51 452.7 388.51 453.5 388.51 454.3 388.51 455.1 388.51 455.9 388.51 456.7 388.51 457.5 388.51 458.0 388.51 458.3 388.51 459.1 388.51 459.9 388.52 460.7 388.54 461.5 388.55 462.3 388.57 463.1 388.59 463.9 388.62 464.7 388.65 465.5 388.68 466.3 388.71 467.1 388.74 467.9 388.77 468.7 388.80 469.5 388.84 470.0 388.86 470.3 388.87 471.1 388.91 471.9 388.95 472.7 388.99 473.5 389.04 474.3 389.09 475.1 389.15 475.9 389.20 476.6 389.26 477.4 389.32 478.2 389.39 479.0 389.45 479.8 389.52 480.6 389.59 481.4 389.66 482.2 389.73 483.0 389.81 483.8 389.88 484.6 389.95 485.4 390.03 486.2 390.10 487.0 390.18 487.8 390.25 488.5 390.31 488.6 390.32 489.4 390.39 490.2 390.47 491.0 390.55 491.8 390.64 492.6 390.72 493.4 390.81 494.2 390.90 495.0 391.00 495.8 391.09 496.6 391.18 497.4 391.28 498.2 391.37 499.0 391.46 499.8 391.55 500.6 391.64 501.4 391.73 502.2 391.81 503.0 391.90 503.8 391.98 504.6 392.05 505.4 392.13 506.2 392.19 507.0 392.26 507.0 392.26 507.8 392.32 508.6 392.38 509.4 392.44 510.1 392.50 510.9 392.55 511.7 392.61 512.5 392.67 513.3 392.72 514.1 392.78 514.9 392.83 515.7 392.88 516.5 392.93 517.3 392.98 518.1 393.03 518.9 393.07 519.7 393.12 520.5 393.16 521.3 393.20 522.1 393.23 522.9 393.27 523.7 393.30 524.5 393.33 525.3 393.35 525.6 393.36 526.1 393.37 526.9 393.40 527.7 393.42 528.5 393.44 529.3 393.46 530.1 393.47 530.9 393.49 531.7 393.51 532.5 393.52 533.3 393.54 534.1 393.55 534.9 393.57 535.7 393.58 536.5 393.59 537.3 393.61 538.1 393.62 538.9 393.63 539.7 393.64 540.5 393.66 541.2 393.67 542.0 393.68 542.9 393.69 543.6 393.70 544.0 393.71 544.4 393.72 545.2 393.73 546.0 393.74 546.8 393.75 547.6 393.76 548.4 393.77 549.2 393.78 550.0 393.79 550.8 393.80 551.6 393.81 552.4 393.82 553.2 393.83 554.0 393.84 554.8 393.85 555.6 393.86 556.4 393.87 557.2 393.88 558.0 393.89 558.8 393.90 559.6 393.91 560.4 393.93 561.2 393.94 562.0 393.95 562.6 393.96 562.8 393.96 563.6 393.98 564.4 393.99 565.2 394.00 566.0 394.02 566.8 394.03 567.6 394.05 568.4 394.07 569.2 394.08 570.0 394.10 570.8 394.12 571.6 394.13 572.4 394.15 573.1 394.17 574.0 394.19 574.8 394.20 575.5 394.22 576.3 394.24 577.1 394.26 577.9 394.28 578.7 394.30 579.5 394.32 580.3 394.34 581.0 394.36 581.1 394.36 581.9 394.39 582.7 394.41 583.5 394.43 584.3 394.46 585.1 394.48 585.9 394.51 586.7 394.53 587.5 394.56 588.3 394.58 589.1 394.61 589.9 394.64 590.7 394.67 591.5 394.69 592.3 394.72 593.1 394.75 593.9 394.77 594.7 394.80 595.0 394.81 595.5 394.83 596.3 394.85 597.1 394.88 597.9 394.91 598.7 394.93 599.5 394.96 600.3 394.99 601.1 395.02 601.9 395.05 602.7 395.07 603.5 395.10 604.3 395.13 605.1 395.15 605.9 395.18 606.6 395.20 607.5 395.22 608.2 395.24 609.0 395.26 609.0 395.26 609.8 395.28 610.6 395.30 611.4 395.31 612.2 395.33 613.0 395.35 613.8 395.36 614.6 395.38 615.4 395.40 616.2 395.41 617.0 395.43 617.8 395.44 618.6 395.46 619.4 395.47 620.2 395.49 621.0 395.50 621.8 395.51 622.6 395.52 623.4 395.54 624.2 395.55 625.0 395.56 625.8 395.57 626.6 395.58 627.4 395.59 628.2 395.59 629.0 395.60 629.8 395.61 630.0 395.61 630.6 395.61 631.4 395.62 632.2 395.63 633.0 395.63 633.8 395.64 634.6 395.64 635.4 395.65 636.2 395.65 637.0 395.66 637.8 395.66 638.5 395.67 639.4 395.67 640.1 395.68 640.9 395.68 641.7 395.69 642.5 395.69 643.3 395.70 644.1 395.70 644.9 395.70 645.7 395.71 646.5 395.71 647.3 395.72 648.1 395.72 648.9 395.72 649.7 395.73 650.5 395.73 651.3 395.73 652.1 395.74 652.9 395.74 653.7 395.74 654.5 395.74 655.3 395.75 656.1 395.75 656.9 395.75 657.7 395.75 658.5 395.76 659.3 395.76 660.0 395.76 660.1 395.76 660.9 395.76 661.7 395.76 662.5 395.77 663.3 395.77 664.1 395.77 664.9 395.77 665.7 395.77 666.5 395.78 667.3 395.78 668.1 395.78 668.9 395.78 669.7 395.78 670.5 395.79 671.2 395.79 672.0 395.79 672.9 395.79 673.6 395.79 674.4 395.80 675.2 395.80 676.0 395.80 676.8 395.80 677.6 395.80 678.4 395.81 679.2 395.81 680.0 395.81 680.8 395.81 681.6 395.81 682.4 395.81 683.2 395.82 684.0 395.82 684.8 395.82 685.6 395.82 686.4 395.82 687.2 395.82 688.0 395.83 691.9 395.83 695.9 395.84 699.8 395.85 703.8 395.85 707.7 395.85 711.6 395.86 715.6 395.86 719.5 395.86 720.0 395.86 723.4 395.86 727.4 395.86 731.3 395.86 735.2 395.86 739.2 395.86 743.1 395.86 747.1 395.86 751.0 395.86 754.9 395.86 758.9 395.86 760.0 395.86 762.8 395.86 766.8 395.85 770.7 395.83 774.6 395.81 778.6 395.78 782.5 395.76 782.5 396.76 778.6 396.74 774.6 396.71 770.7 396.69 766.8 396.67 762.8 396.66 760.0 396.66 758.9 396.66 754.9 396.66 751.0 396.66 747.1 396.66 743.1 396.66 739.2 396.66 735.2 396.66 731.3 396.66 727.4 396.66 723.4 396.66 720.0 396.66 719.5 396.66 715.6 396.66 711.6 396.66 707.7 396.67 703.8 396.67 699.8 396.67 695.9 396.68 691.9 396.69 688.0 396.69 687.2 396.70 686.4 396.70 685.6 396.70 684.8 396.70 684.0 396.70 683.2 396.70 682.4 396.71 681.6 396.71 680.8 396.71 680.0 396.71 679.2 396.71 678.4 396.71 677.6 396.72 676.8 396.72 676.0 396.72 675.2 396.72 674.4 396.72 673.6 396.73 672.9 396.73 672.0 396.73 671.2 396.73 670.5 396.73 669.7 396.74 668.9 396.74 668.1 396.74 667.3 396.74 666.5 396.74 665.7 396.75 664.9 396.75 664.1 396.75 663.3 396.75 662.5 396.75 661.7 396.76 660.9 396.76 660.1 396.76 660.0 396.76 659.3 396.76 658.5 396.76 657.7 396.77 656.9 396.77 656.1 396.77 655.3 396.77 654.5 396.78 653.7 396.78 652.9 396.78 652.1 396.78 651.3 396.79 650.5 396.79 649.7 396.79 648.9 396.80 648.1 396.80 647.3 396.80 646.5 396.81 645.7 396.81 644.9 396.82 644.1 396.82 643.3 396.82 642.5 396.83 641.7 396.83 640.9 396.84 640.1 396.84 639.4 396.85 638.5 396.85 637.8 396.86 637.0 396.86 636.2 396.87 635.4 396.87 634.6 396.88 633.8 396.88 633.0 396.89 632.2 396.89 631.4 396.90 630.6 396.91 630.0 396.91 629.8 396.91 629.0 396.92 628.2 396.93 627.4 396.93 626.6 396.94 625.8 396.95 625.0 396.96 624.2 396.97 623.4 396.98 622.6 397.00 621.8 397.01 621.0 397.02 620.2 397.03 619.4 397.05 618.6 397.06 617.8 397.08 617.0 397.09 616.2 397.11 615.4 397.12 614.6 397.14 613.8 397.16 613.0 397.17 612.2 397.19 611.4 397.21 610.6 397.22 609.8 397.24 609.0 397.26 609.0 397.26 608.2 397.28 607.5 397.30 606.6 397.32 605.9 397.34 605.1 397.37 604.3 397.39 603.5 397.42 602.7 397.45 601.9 397.47 601.1 397.50 600.3 397.53 599.5 397.56 598.7 397.59 597.9 397.61 597.1 397.64 596.3 397.67 595.5 397.69 595.0 397.71 594.7 397.72 593.9 397.75 593.1 397.77 592.3 397.80 591.5 397.83 590.7 397.85 589.9 397.88 589.1 397.91 588.3 397.94 587.5 397.96 586.7 397.99 585.9 398.01 585.1 398.04 584.3 398.06 583.5 398.09 582.7 398.11 581.9 398.13 581.1 398.16 581.0 398.16 580.3 398.18 579.5 398.20 578.7 398.22 577.9 398.24 577.1 398.26 576.3 398.28 575.5 398.30 574.8 398.32 574.0 398.33 573.1 398.35 572.4 398.37 571.6 398.39 570.8 398.40 570.0 398.42 569.2 398.44 568.4 398.45 567.6 398.47 566.8 398.49 566.0 398.50 565.2 398.52 564.4 398.53 563.6 398.54 562.8 398.56 562.6 398.56 562.0 398.57 561.2 398.58 560.4 398.59 559.6 398.61 558.8 398.62 558.0 398.63 557.2 398.64 556.4 398.65 555.6 398.66 554.8 398.67 554.0 398.68 553.2 398.69 552.4 398.70 551.6 398.71 550.8 398.72 550.0 398.73 549.2 398.74 548.4 398.75 547.6 398.76 546.8 398.77 546.0 398.78 545.2 398.79 544.4 398.80 544.0 398.81 543.6 398.82 542.9 398.83 542.0 398.84 541.2 398.85 540.5 398.86 539.7 398.88 538.9 398.89 538.1 398.90 537.3 398.91 536.5 398.93 535.7 398.94 534.9 398.95 534.1 398.97 533.3 398.98 532.5 399.00 531.7 399.01 530.9 399.03 530.1 399.05 529.3 399.06 528.5 399.08 527.7 399.10 526.9 399.12 526.1 399.15 525.6 399.16 525.3 399.17 524.5 399.19 523.7 399.22 522.9 399.25 522.1 399.29 521.3 399.32 520.5 399.36 519.7 399.40 518.9 399.45 518.1 399.49 517.3 399.54 516.5 399.59 515.7 399.64 514.9 399.69 514.1 399.74 513.3 399.80 512.5 399.85 511.7 399.91 510.9 399.97 510.1 400.02 509.4 400.08 508.6 400.14 507.8 400.20 507.0 400.26 507.0 400.26 506.2 400.33 505.4 400.39 504.6 400.47 503.8 400.54 503.0 400.62 502.2 400.71 501.4 400.79 500.6 400.88 499.8 400.97 499.0 401.06 498.2 401.15 497.4 401.24 496.6 401.34 495.8 401.43 495.0 401.52 494.2 401.62 493.4 401.71 492.6 401.80 491.8 401.88 491.0 401.97 490.2 402.05 489.4 402.13 488.6 402.20 488.5 402.21 487.8 402.27 487.0 402.34 486.2 402.42 485.4 402.49 484.6 402.57 483.8 402.64 483.0 402.71 482.2 402.79 481.4 402.86 480.6 402.93 479.8 403.00 479.0 403.07 478.2 403.13 477.4 403.20 476.6 403.26 475.9 403.32 475.1 403.37 474.3 403.43 473.5 403.48 472.7 403.53 471.9 403.57 471.1 403.61 470.3 403.65 470.0 403.66 469.5 403.68 468.7 403.72 467.9 403.75 467.1 403.78 466.3 403.81 465.5 403.84 464.7 403.87 463.9 403.90 463.1 403.93 462.3 403.95 461.5 403.97 460.7 403.98 459.9 404.00 459.1 404.01 458.3 404.01 458.0 404.01 457.5 404.01 456.7 404.01 455.9 404.01 455.1 404.01 454.3 404.01 453.5 404.01 452.7 404.01 451.9 404.01 451.1 404.01 450.3 404.01 450.0 404.01 449.5 404.01 448.7 404.00 447.9 403.98 447.1 403.95 446.3 403.92 445.6 403.89 444.8 403.84 443.9 403.80 443.1 403.75 442.4 403.70 441.6 403.65 440.8 403.60 440.0 403.56 440.0 403.56 439.2 403.51 438.4 403.46 437.6 403.40 436.8 403.35 436.0 403.29 435.2 403.23 434.4 403.16 433.6 403.09 432.8 403.02 432.0 402.95 431.2 402.88 430.4 402.80 429.6 402.72 428.8 402.64 428.0 402.56Z"/>
<path d="M556.2 473.40 557.0 473.33 557.8 473.26 558.6 473.20 559.4 473.13 560.2 473.07 561.0 473.01 561.8 472.95 562.6 472.90 563.4 472.85 564.2 472.80 565.0 472.75 565.8 472.71 566.6 472.66 567.4 472.63 568.0 472.60 568.2 472.59 569.0 472.56 569.8 472.53 570.6 472.49 571.4 472.46 572.1 472.43 573.0 472.40 573.8 472.37 574.5 472.35 575.3 472.33 576.1 472.32 576.9 472.31 577.7 472.30 578.0 472.30 578.5 472.30 579.3 472.30 580.1 472.30 580.9 472.31 581.7 472.31 582.5 472.32 583.3 472.32 584.1 472.33 584.9 472.34 585.7 472.35 586.0 472.35 586.5 472.36 587.3 472.39 588.1 472.43 588.9 472.48 589.7 472.53 590.0 472.55 590.5 472.58 591.3 472.62 592.1 472.67 592.9 472.71 593.7 472.76 594.5 472.81 595.3 472.86 596.1 472.90 596.9 472.95 597.7 473.00 598.5 473.05 599.3 473.10 600.1 473.16 600.9 473.21 601.7 473.26 602.5 473.31 603.3 473.36 604.0 473.41 604.9 473.47 605.6 473.52 606.5 473.57 607.2 473.62 608.0 473.67 608.5 473.70 608.8 473.72 609.6 473.77 610.4 473.82 611.2 473.88 612.0 473.93 612.8 473.98 613.6 474.04 614.4 474.09 615.2 474.15 616.0 474.20 616.8 474.25 617.6 474.31 618.4 474.36 619.2 474.42 620.0 474.47 620.8 474.52 621.6 474.57 622.4 474.62 623.2 474.67 624.0 474.72 624.8 474.77 625.6 474.82 626.4 474.87 627.0 474.90 627.2 474.91 628.0 474.95 628.8 475.00 629.6 475.04 630.4 475.08 631.2 475.13 632.0 475.17 632.8 475.21 633.6 475.25 634.4 475.30 635.2 475.34 636.0 475.38 636.8 475.42 637.5 475.45 638.4 475.49 639.1 475.53 639.9 475.57 640.7 475.60 641.5 475.64 642.3 475.67 643.1 475.70 643.9 475.74 644.7 475.77 645.5 475.80 645.6 475.80 646.3 475.83 647.1 475.86 647.9 475.88 648.7 475.91 649.5 475.94 650.3 475.97 651.1 475.99 651.9 476.02 652.7 476.05 653.5 476.07 654.3 476.10 655.1 476.12 655.9 476.14 656.7 476.17 657.5 476.19 658.3 476.21 659.1 476.23 659.9 476.25 660.7 476.27 661.5 476.29 662.3 476.31 663.1 476.33 663.9 476.35 664.0 476.35 664.7 476.36 665.5 476.38 666.3 476.39 667.1 476.41 667.9 476.42 668.6 476.44 669.5 476.45 670.2 476.46 671.0 476.47 671.8 476.49 672.6 476.50 673.4 476.51 674.2 476.52 675.0 476.53 675.8 476.54 676.6 476.56 677.4 476.57 678.2 476.58 679.0 476.59 679.8 476.60 680.6 476.62 681.4 476.63 682.2 476.64 682.6 476.65 683.0 476.66 683.8 476.67 684.6 476.69 685.4 476.70 686.2 476.71 687.0 476.73 687.8 476.74 688.6 476.76 689.4 476.77 690.2 476.79 691.0 476.80 691.8 476.82 692.6 476.83 693.4 476.85 694.2 476.86 695.0 476.88 695.8 476.89 696.6 476.91 697.4 476.92 698.2 476.94 699.0 476.96 699.8 476.97 700.6 476.99 701.0 477.00 701.4 477.01 702.1 477.02 703.0 477.04 703.8 477.06 704.5 477.08 705.3 477.10 706.1 477.12 706.9 477.14 707.7 477.16 708.5 477.18 709.3 477.20 710.1 477.22 710.9 477.24 711.7 477.26 712.5 477.28 713.3 477.30 714.1 477.32 714.9 477.34 715.7 477.36 716.5 477.38 717.3 477.40 718.1 477.42 718.9 477.43 719.6 477.45 719.7 477.45 720.5 477.47 721.3 477.49 722.1 477.51 722.9 477.53 723.7 477.54 724.5 477.56 725.3 477.58 726.1 477.60 726.9 477.62 727.7 477.63 728.5 477.65 729.3 477.67 730.1 477.68 730.9 477.70 731.7 477.72 732.5 477.73 733.3 477.75 733.5 477.75 734.0 477.76 734.9 477.77 735.6 477.79 736.5 477.80 737.2 477.81 738.0 477.83 738.8 477.84 739.6 477.85 740.4 477.86 741.2 477.87 742.0 477.88 742.8 477.90 743.6 477.91 744.4 477.92 745.2 477.93 746.0 477.94 746.8 477.95 747.6 477.96 748.4 477.98 749.2 477.99 750.0 478.00 750.8 478.01 751.6 478.02 752.4 478.04 753.2 478.05 754.0 478.06 754.8 478.07 755.6 478.08 756.4 478.10 757.2 478.11 758.0 478.12 758.8 478.13 759.6 478.14 760.4 478.15 761.2 478.17 762.0 478.18 762.8 478.19 763.6 478.20 764.4 478.21 765.2 478.23 766.0 478.24 766.8 478.25 767.5 478.26 768.4 478.27 769.1 478.29 769.9 478.30 770.0 478.30 770.7 478.31 771.5 478.32 772.3 478.34 773.1 478.35 773.9 478.36 774.7 478.38 775.5 478.39 776.3 478.41 777.1 478.42 777.9 478.43 778.7 478.45 779.5 478.46 780.3 478.47 781.1 478.49 781.9 478.50 782.7 478.51 783.5 478.53 784.3 478.54 785.1 478.55 785.9 478.56 786.7 478.57 787.5 478.58 788.3 478.59 789.0 478.60 789.1 478.60 789.9 478.61 790.7 478.62 791.5 478.63 792.3 478.63 793.1 478.64 793.9 478.65 794.7 478.66 795.5 478.67 796.3 478.67 797.1 478.68 797.9 478.69 798.6 478.70 799.5 478.70 800.2 478.71 801.0 478.72 801.8 478.72 802.6 478.73 803.4 478.74 804.2 478.74 805.0 478.75 805.8 478.76 806.6 478.76 807.4 478.77 808.2 478.78 809.0 478.78 809.8 478.79 810.6 478.79 811.4 478.80 812.2 478.80 813.0 478.81 813.8 478.81 814.6 478.82 815.4 478.82 816.2 478.83 820.0 478.85 820.1 478.85 824.1 478.87 828.0 478.89 832.0 478.92 835.9 478.94 839.9 478.95 843.8 478.97 847.8 478.98 851.7 478.99 855.6 479.00 858.0 479.00 859.6 479.00 863.5 479.00 867.5 479.00 871.4 479.00 875.4 479.00 879.3 479.00 883.3 479.00 887.2 479.00 891.1 479.00 895.1 479.00 899.0 479.00 903.0 479.00 906.9 479.00 910.9 479.00 914.8 479.00 918.8 479.00 922.7 479.00 926.6 479.00 930.6 479.00 934.5 479.00 938.5 479.00 942.4 479.00 946.4 479.00 950.3 479.00 954.3 479.00 958.2 479.00 962.1 479.00 966.1 479.00 970.0 479.00 974.0 479.00 976.0 479.00 977.9 479.00 981.9 479.00 985.8 478.99 989.8 478.98 993.7 478.98 997.6 478.97 1001.6 478.95 1005.5 478.94 1009.5 478.93 1013.4 478.91 1017.4 478.90 1021.3 478.88 1025.3 478.87 1029.2 478.85 1030.0 478.85 1033.2 478.84 1037.1 478.82 1041.0 478.81 1045.0 478.79 1048.9 478.77 1052.9 478.75 1056.8 478.73 1060.8 478.71 1064.7 478.69 1068.7 478.67 1072.6 478.65 1072.6 479.75 1068.7 479.73 1064.7 479.71 1060.8 479.69 1056.8 479.67 1052.9 479.65 1048.9 479.63 1045.0 479.61 1041.0 479.59 1037.1 479.58 1033.2 479.56 1030.0 479.55 1029.2 479.55 1025.3 479.53 1021.3 479.52 1017.4 479.50 1013.4 479.49 1009.5 479.47 1005.5 479.46 1001.6 479.45 997.6 479.43 993.7 479.42 989.8 479.42 985.8 479.41 981.9 479.40 977.9 479.40 976.0 479.40 974.0 479.40 970.0 479.40 966.1 479.40 962.1 479.40 958.2 479.40 954.3 479.40 950.3 479.40 946.4 479.40 942.4 479.40 938.5 479.40 934.5 479.40 930.6 479.40 926.6 479.40 922.7 479.40 918.8 479.40 914.8 479.40 910.9 479.40 906.9 479.40 903.0 479.40 899.0 479.40 895.1 479.40 891.1 479.40 887.2 479.40 883.3 479.40 879.3 479.40 875.4 479.40 871.4 479.40 867.5 479.40 863.5 479.40 859.6 479.40 858.0 479.40 855.6 479.40 851.7 479.41 847.8 479.42 843.8 479.43 839.9 479.45 835.9 479.46 832.0 479.48 828.0 479.51 824.1 479.53 820.1 479.55 820.0 479.55 816.2 479.57 815.4 479.58 814.6 479.58 813.8 479.59 813.0 479.59 812.2 479.60 811.4 479.60 810.6 479.61 809.8 479.61 809.0 479.62 808.2 479.62 807.4 479.63 806.6 479.64 805.8 479.64 805.0 479.65 804.2 479.66 803.4 479.66 802.6 479.67 801.8 479.68 801.0 479.68 800.2 479.69 799.5 479.70 798.6 479.70 797.9 479.71 797.1 479.72 796.3 479.73 795.5 479.73 794.7 479.74 793.9 479.75 793.1 479.76 792.3 479.77 791.5 479.77 790.7 479.78 789.9 479.79 789.1 479.80 789.0 479.80 788.3 479.81 787.5 479.82 786.7 479.83 785.9 479.84 785.1 479.85 784.3 479.86 783.5 479.87 782.7 479.89 781.9 479.90 781.1 479.91 780.3 479.93 779.5 479.94 778.7 479.95 777.9 479.97 777.1 479.98 776.3 479.99 775.5 480.01 774.7 480.02 773.9 480.04 773.1 480.05 772.3 480.06 771.5 480.08 770.7 480.09 770.0 480.10 769.9 480.10 769.1 480.11 768.4 480.13 767.5 480.14 766.8 480.15 766.0 480.16 765.2 480.17 764.4 480.19 763.6 480.20 762.8 480.21 762.0 480.22 761.2 480.23 760.4 480.25 759.6 480.26 758.8 480.27 758.0 480.28 757.2 480.29 756.4 480.30 755.6 480.32 754.8 480.33 754.0 480.34 753.2 480.35 752.4 480.36 751.6 480.38 750.8 480.39 750.0 480.40 749.2 480.41 748.4 480.42 747.6 480.44 746.8 480.45 746.0 480.46 745.2 480.47 744.4 480.48 743.6 480.49 742.8 480.50 742.0 480.52 741.2 480.53 740.4 480.54 739.6 480.55 738.8 480.56 738.0 480.57 737.2 480.59 736.5 480.60 735.6 480.61 734.9 480.63 734.0 480.64 733.5 480.65 733.3 480.65 732.5 480.67 731.7 480.68 730.9 480.70 730.1 480.72 729.3 480.73 728.5 480.75 727.7 480.77 726.9 480.78 726.1 480.80 725.3 480.82 724.5 480.84 723.7 480.86 722.9 480.87 722.1 480.89 721.3 480.91 720.5 480.93 719.7 480.95 719.6 480.95 718.9 480.97 718.1 480.98 717.3 481.00 716.5 481.02 715.7 481.04 714.9 481.06 714.1 481.08 713.3 481.10 712.5 481.12 711.7 481.14 710.9 481.16 710.1 481.18 709.3 481.20 708.5 481.22 707.7 481.24 706.9 481.26 706.1 481.28 705.3 481.30 704.5 481.32 703.8 481.34 703.0 481.36 702.1 481.38 701.4 481.39 701.0 481.40 700.6 481.41 699.8 481.43 699.0 481.44 698.2 481.46 697.4 481.48 696.6 481.49 695.8 481.51 695.0 481.52 694.2 481.54 693.4 481.55 692.6 481.57 691.8 481.58 691.0 481.60 690.2 481.61 689.4 481.63 688.6 481.64 687.8 481.66 687.0 481.67 686.2 481.69 685.4 481.70 684.6 481.71 683.8 481.73 683.0 481.74 682.6 481.75 682.2 481.76 681.4 481.77 680.6 481.78 679.8 481.80 679.0 481.81 678.2 481.82 677.4 481.83 676.6 481.84 675.8 481.86 675.0 481.87 674.2 481.88 673.4 481.89 672.6 481.90 671.8 481.91 671.0 481.93 670.2 481.94 669.5 481.95 668.6 481.96 667.9 481.98 667.1 481.99 666.3 482.01 665.5 482.02 664.7 482.04 664.0 482.05 663.9 482.05 663.1 482.07 662.3 482.09 661.5 482.11 660.7 482.13 659.9 482.15 659.1 482.17 658.3 482.19 657.5 482.21 656.7 482.23 655.9 482.26 655.1 482.28 654.3 482.30 653.5 482.33 652.7 482.35 651.9 482.38 651.1 482.41 650.3 482.43 649.5 482.46 648.7 482.49 647.9 482.52 647.1 482.54 646.3 482.57 645.6 482.60 645.5 482.60 644.7 482.63 643.9 482.66 643.1 482.70 642.3 482.73 641.5 482.76 640.7 482.80 639.9 482.83 639.1 482.87 638.4 482.91 637.5 482.95 636.8 482.98 636.0 483.02 635.2 483.06 634.4 483.10 633.6 483.15 632.8 483.19 632.0 483.23 631.2 483.27 630.4 483.32 629.6 483.36 628.8 483.40 628.0 483.45 627.2 483.49 627.0 483.50 626.4 483.53 625.6 483.58 624.8 483.63 624.0 483.68 623.2 483.73 622.4 483.78 621.6 483.83 620.8 483.88 620.0 483.93 619.2 483.98 618.4 484.04 617.6 484.09 616.8 484.15 616.0 484.20 615.2 484.25 614.4 484.31 613.6 484.36 612.8 484.42 612.0 484.47 611.2 484.52 610.4 484.58 609.6 484.63 608.8 484.68 608.5 484.70 608.0 484.73 607.2 484.78 606.5 484.83 605.6 484.88 604.9 484.93 604.0 484.99 603.3 485.04 602.5 485.09 601.7 485.14 600.9 485.19 600.1 485.24 599.3 485.30 598.5 485.35 597.7 485.40 596.9 485.45 596.1 485.50 595.3 485.54 594.5 485.59 593.7 485.64 592.9 485.69 592.1 485.73 591.3 485.78 590.5 485.82 590.0 485.85 589.7 485.87 588.9 485.92 588.1 485.97 587.3 486.01 586.5 486.04 586.0 486.05 585.7 486.05 584.9 486.06 584.1 486.07 583.3 486.08 582.5 486.08 581.7 486.09 580.9 486.09 580.1 486.10 579.3 486.10 578.5 486.10 578.0 486.10 577.7 486.10 576.9 486.09 576.1 486.08 575.3 486.07 574.5 486.05 573.8 486.03 573.0 486.00 572.1 485.97 571.4 485.94 570.6 485.91 569.8 485.87 569.0 485.84 568.2 485.81 568.0 485.80 567.4 485.77 566.6 485.74 565.8 485.69 565.0 485.65 564.2 485.60 563.4 485.55 562.6 485.50 561.8 485.45 561.0 485.39 560.2 485.33 559.4 485.27 558.6 485.20 557.8 485.14 557.0 485.07 556.2 485.00Z"/>
<path d="M551.2 557.84 552.0 557.79 552.8 557.74 553.6 557.69 554.4 557.65 555.2 557.60 556.0 557.56 556.8 557.51 557.6 557.47 558.4 557.43 559.2 557.39 560.0 557.35 560.8 557.31 561.6 557.28 562.4 557.24 563.2 557.21 564.0 557.18 564.8 557.15 565.0 557.14 565.6 557.12 566.4 557.09 567.1 557.06 568.0 557.03 568.8 557.00 569.5 556.97 570.3 556.95 571.1 556.92 571.9 556.89 572.7 556.87 573.5 556.85 574.3 556.83 575.1 556.82 575.9 556.80 576.7 556.80 577.5 556.79 578.0 556.79 578.3 556.79 579.1 556.79 579.9 556.79 580.7 556.79 581.5 556.79 582.3 556.79 583.1 556.79 583.9 556.79 584.7 556.79 585.5 556.79 586.3 556.79 587.1 556.79 587.9 556.79 588.7 556.79 589.5 556.79 590.0 556.79 590.3 556.79 591.1 556.79 591.9 556.80 592.7 556.81 593.5 556.82 594.3 556.83 595.1 556.85 595.9 556.86 596.7 556.88 597.5 556.89 598.3 556.91 599.0 556.92 599.9 556.94 600.0 556.94 600.6 556.95 601.5 556.96 602.2 556.98 603.0 556.99 603.8 557.00 604.6 557.02 605.4 557.03 606.2 557.04 607.0 557.05 607.8 557.07 608.6 557.08 609.4 557.09 610.2 557.11 611.0 557.12 611.8 557.14 612.6 557.15 613.4 557.17 614.2 557.18 615.0 557.20 615.8 557.21 616.6 557.23 617.4 557.24 618.2 557.26 619.0 557.28 619.6 557.29 619.8 557.29 620.6 557.31 621.4 557.33 622.2 557.35 623.0 557.37 623.8 557.39 624.6 557.41 625.4 557.43 626.2 557.45 627.0 557.48 627.8 557.50 628.6 557.52 629.4 557.55 630.2 557.57 631.0 557.59 631.8 557.62 632.5 557.64 633.4 557.67 634.1 557.69 634.9 557.71 635.7 557.74 636.5 557.76 637.3 557.79 638.1 557.81 638.9 557.83 639.7 557.86 640.5 557.88 641.3 557.90 642.1 557.92 642.8 557.94 642.9 557.94 643.7 557.96 644.5 557.99 645.3 558.01 646.1 558.03 646.9 558.05 647.7 558.07 648.5 558.09 649.3 558.11 650.1 558.13 650.9 558.15 651.7 558.17 652.5 558.19 653.3 558.21 654.1 558.23 654.9 558.25 655.7 558.27 656.5 558.29 657.3 558.31 658.1 558.32 658.9 558.34 659.7 558.36 660.5 558.38 661.3 558.40 662.1 558.42 662.9 558.44 663.6 558.46 664.5 558.48 665.2 558.50 666.0 558.52 666.8 558.54 667.6 558.56 668.4 558.58 669.2 558.60 670.0 558.63 670.6 558.64 670.8 558.65 671.6 558.67 672.4 558.69 673.2 558.71 674.0 558.73 674.8 558.75 675.6 558.78 676.4 558.80 677.2 558.82 678.0 558.84 678.8 558.86 679.6 558.89 680.4 558.91 681.2 558.93 682.0 558.95 682.8 558.98 683.6 559.00 684.4 559.02 685.2 559.04 686.0 559.07 686.8 559.09 687.6 559.11 688.4 559.13 689.2 559.16 690.0 559.18 690.8 559.20 691.6 559.22 692.4 559.24 693.2 559.26 694.0 559.29 694.8 559.31 695.6 559.33 696.4 559.35 697.1 559.37 698.0 559.39 698.0 559.39 698.8 559.41 699.5 559.43 700.3 559.45 701.1 559.47 701.9 559.49 702.7 559.51 703.5 559.53 704.3 559.55 705.1 559.56 705.9 559.58 706.7 559.60 707.5 559.62 708.3 559.64 709.1 559.66 709.9 559.68 710.7 559.69 711.5 559.71 712.3 559.73 713.1 559.75 713.9 559.77 714.7 559.79 715.5 559.80 716.3 559.82 717.1 559.84 717.9 559.86 718.7 559.88 719.5 559.89 720.3 559.91 721.1 559.93 721.9 559.95 722.7 559.97 723.5 559.98 724.3 560.00 725.1 560.02 725.9 560.04 726.0 560.04 726.7 560.05 727.5 560.07 728.3 560.09 729.0 560.11 729.9 560.13 730.6 560.14 731.5 560.16 732.2 560.18 733.0 560.20 733.8 560.22 734.6 560.24 735.4 560.25 736.2 560.27 737.0 560.29 737.8 560.31 738.6 560.32 739.4 560.34 740.2 560.36 741.0 560.38 741.8 560.39 742.6 560.41 743.4 560.43 744.2 560.44 745.0 560.46 745.8 560.48 746.6 560.49 747.4 560.51 748.2 560.52 749.0 560.54 749.0 560.54 749.8 560.56 750.6 560.57 751.4 560.59 752.2 560.60 753.0 560.61 753.8 560.63 754.6 560.64 755.4 560.66 756.2 560.67 757.0 560.69 757.8 560.70 758.6 560.71 759.4 560.73 760.2 560.74 761.0 560.75 761.8 560.77 762.5 560.78 763.4 560.79 764.1 560.81 764.9 560.82 765.7 560.83 766.5 560.85 767.3 560.86 768.1 560.87 768.9 560.89 769.7 560.90 770.5 560.91 771.3 560.93 772.1 560.94 772.9 560.95 773.7 560.97 774.5 560.98 775.0 560.99 775.3 561.00 776.1 561.01 776.9 561.02 777.7 561.04 778.5 561.05 779.3 561.07 780.1 561.08 780.9 561.10 781.7 561.11 782.5 561.12 783.3 561.14 784.1 561.15 784.9 561.17 785.7 561.18 786.5 561.20 787.3 561.21 788.1 561.23 788.9 561.24 789.7 561.25 790.5 561.27 791.3 561.28 792.1 561.30 792.9 561.31 793.6 561.33 794.5 561.34 795.2 561.36 796.0 561.37 796.8 561.38 797.6 561.40 798.4 561.41 799.2 561.43 800.0 561.44 800.0 561.44 800.8 561.46 801.6 561.47 802.4 561.49 803.2 561.50 804.0 561.52 804.8 561.54 805.6 561.56 806.4 561.57 807.2 561.59 808.0 561.61 808.8 561.63 809.6 561.64 810.4 561.66 811.2 561.68 815.1 561.74 819.0 561.79 820.0 561.79 822.9 561.80 826.7 561.81 830.6 561.82 834.5 561.83 838.4 561.83 842.3 561.84 846.1 561.84 850.0 561.84 850.0 561.84 853.9 561.83 857.8 561.81 861.7 561.78 865.6 561.74 869.5 561.69 873.3 561.65 877.2 561.61 880.0 561.59 881.1 561.58 885.0 561.56 888.9 561.53 892.8 561.51 896.6 561.48 900.5 561.46 904.4 561.44 904.4 562.84 900.5 562.82 896.6 562.80 892.8 562.77 888.9 562.75 885.0 562.72 881.1 562.70 880.0 562.69 877.2 562.67 873.3 562.63 869.5 562.59 865.6 562.54 861.7 562.50 857.8 562.47 853.9 562.45 850.0 562.44 850.0 562.44 846.1 562.44 842.3 562.44 838.4 562.45 834.5 562.45 830.6 562.46 826.7 562.47 822.9 562.48 820.0 562.49 819.0 562.49 815.1 562.54 811.2 562.60 810.4 562.62 809.6 562.64 808.8 562.65 808.0 562.67 807.2 562.69 806.4 562.71 805.6 562.72 804.8 562.74 804.0 562.76 803.2 562.78 802.4 562.79 801.6 562.81 800.8 562.82 800.0 562.84 800.0 562.84 799.2 562.85 798.4 562.87 797.6 562.88 796.8 562.90 796.0 562.91 795.2 562.92 794.5 562.94 793.6 562.95 792.9 562.97 792.1 562.98 791.3 563.00 790.5 563.01 789.7 563.03 788.9 563.04 788.1 563.05 787.3 563.07 786.5 563.08 785.7 563.10 784.9 563.11 784.1 563.13 783.3 563.14 782.5 563.16 781.7 563.17 780.9 563.18 780.1 563.20 779.3 563.21 778.5 563.23 777.7 563.24 776.9 563.26 776.1 563.27 775.3 563.28 775.0 563.29 774.5 563.30 773.7 563.31 772.9 563.33 772.1 563.34 771.3 563.35 770.5 563.37 769.7 563.38 768.9 563.39 768.1 563.41 767.3 563.42 766.5 563.43 765.7 563.45 764.9 563.46 764.1 563.47 763.4 563.49 762.5 563.50 761.8 563.51 761.0 563.53 760.2 563.54 759.4 563.55 758.6 563.57 757.8 563.58 757.0 563.59 756.2 563.61 755.4 563.62 754.6 563.64 753.8 563.65 753.0 563.67 752.2 563.68 751.4 563.69 750.6 563.71 749.8 563.72 749.0 563.74 749.0 563.74 748.2 563.76 747.4 563.77 746.6 563.79 745.8 563.80 745.0 563.82 744.2 563.84 743.4 563.85 742.6 563.87 741.8 563.89 741.0 563.90 740.2 563.92 739.4 563.94 738.6 563.96 737.8 563.97 737.0 563.99 736.2 564.01 735.4 564.03 734.6 564.04 733.8 564.06 733.0 564.08 732.2 564.10 731.5 564.12 730.6 564.14 729.9 564.15 729.0 564.17 728.3 564.19 727.5 564.21 726.7 564.23 726.0 564.24 725.9 564.24 725.1 564.26 724.3 564.28 723.5 564.30 722.7 564.31 721.9 564.33 721.1 564.35 720.3 564.37 719.5 564.39 718.7 564.40 717.9 564.42 717.1 564.44 716.3 564.46 715.5 564.48 714.7 564.49 713.9 564.51 713.1 564.53 712.3 564.55 711.5 564.57 710.7 564.59 709.9 564.60 709.1 564.62 708.3 564.64 707.5 564.66 706.7 564.68 705.9 564.70 705.1 564.72 704.3 564.73 703.5 564.75 702.7 564.77 701.9 564.79 701.1 564.81 700.3 564.83 699.5 564.85 698.8 564.87 698.0 564.89 698.0 564.89 697.1 564.91 696.4 564.93 695.6 564.95 694.8 564.97 694.0 564.99 693.2 565.02 692.4 565.04 691.6 565.06 690.8 565.08 690.0 565.10 689.2 565.12 688.4 565.15 687.6 565.17 686.8 565.19 686.0 565.21 685.2 565.24 684.4 565.26 683.6 565.28 682.8 565.30 682.0 565.33 681.2 565.35 680.4 565.37 679.6 565.39 678.8 565.42 678.0 565.44 677.2 565.46 676.4 565.48 675.6 565.50 674.8 565.53 674.0 565.55 673.2 565.57 672.4 565.59 671.6 565.61 670.8 565.63 670.6 565.64 670.0 565.65 669.2 565.68 668.4 565.70 667.6 565.72 666.8 565.74 666.0 565.76 665.2 565.78 664.5 565.80 663.6 565.82 662.9 565.84 662.1 565.86 661.3 565.88 660.5 565.90 659.7 565.92 658.9 565.94 658.1 565.96 657.3 565.97 656.5 565.99 655.7 566.01 654.9 566.03 654.1 566.05 653.3 566.07 652.5 566.09 651.7 566.11 650.9 566.13 650.1 566.15 649.3 566.17 648.5 566.19 647.7 566.21 646.9 566.23 646.1 566.25 645.3 566.27 644.5 566.29 643.7 566.32 642.9 566.34 642.8 566.34 642.1 566.36 641.3 566.38 640.5 566.40 639.7 566.42 638.9 566.45 638.1 566.47 637.3 566.49 636.5 566.52 635.7 566.54 634.9 566.57 634.1 566.59 633.4 566.61 632.5 566.64 631.8 566.66 631.0 566.69 630.2 566.71 629.4 566.73 628.6 566.76 627.8 566.78 627.0 566.80 626.2 566.83 625.4 566.85 624.6 566.87 623.8 566.89 623.0 566.91 622.2 566.93 621.4 566.95 620.6 566.97 619.8 566.99 619.6 566.99 619.0 567.00 618.2 567.02 617.4 567.04 616.6 567.05 615.8 567.07 615.0 567.08 614.2 567.10 613.4 567.11 612.6 567.13 611.8 567.14 611.0 567.16 610.2 567.17 609.4 567.19 608.6 567.20 607.8 567.21 607.0 567.23 606.2 567.24 605.4 567.25 604.6 567.26 603.8 567.28 603.0 567.29 602.2 567.30 601.5 567.32 600.6 567.33 600.0 567.34 599.9 567.34 599.0 567.36 598.3 567.37 597.5 567.39 596.7 567.40 595.9 567.42 595.1 567.43 594.3 567.45 593.5 567.46 592.7 567.47 591.9 567.48 591.1 567.49 590.3 567.49 590.0 567.49 589.5 567.49 588.7 567.49 587.9 567.49 587.1 567.49 586.3 567.49 585.5 567.49 584.7 567.49 583.9 567.49 583.1 567.49 582.3 567.49 581.5 567.49 580.7 567.49 579.9 567.49 579.1 567.49 578.3 567.49 578.0 567.49 577.5 567.49 576.7 567.48 575.9 567.48 575.1 567.46 574.3 567.45 573.5 567.43 572.7 567.41 571.9 567.39 571.1 567.36 570.3 567.33 569.5 567.31 568.8 567.28 568.0 567.25 567.1 567.22 566.4 567.19 565.6 567.16 565.0 567.14 564.8 567.13 564.0 567.10 563.2 567.07 562.4 567.04 561.6 567.00 560.8 566.97 560.0 566.93 559.2 566.89 558.4 566.85 557.6 566.81 556.8 566.77 556.0 566.72 555.2 566.68 554.4 566.63 553.6 566.59 552.8 566.54 552.0 566.49 551.2 566.44Z"/>
<path d="M560.3 640.28 561.1 640.20 561.9 640.11 562.7 640.03 563.5 639.95 564.3 639.88 565.1 639.80 565.9 639.73 566.7 639.66 567.5 639.60 568.3 639.53 569.1 639.47 569.9 639.42 570.7 639.36 571.5 639.31 572.0 639.28 572.3 639.26 573.1 639.22 573.9 639.17 574.7 639.13 575.5 639.09 576.2 639.05 577.0 639.01 577.9 638.98 578.6 638.94 579.4 638.91 580.2 638.88 581.0 638.86 581.8 638.83 582.0 638.83 582.6 638.81 583.4 638.79 584.2 638.77 585.0 638.75 585.8 638.73 586.6 638.72 587.4 638.70 588.2 638.69 589.0 638.68 589.8 638.68 590.0 638.68 590.6 638.68 591.4 638.68 592.2 638.69 593.0 638.69 593.8 638.70 594.6 638.71 595.4 638.71 596.2 638.72 597.0 638.73 597.8 638.75 598.6 638.76 599.4 638.77 600.0 638.78 600.2 638.78 601.0 638.80 601.8 638.82 602.6 638.85 603.4 638.89 604.2 638.92 605.0 638.97 605.8 639.01 606.6 639.06 607.4 639.11 608.1 639.17 609.0 639.23 609.8 639.29 610.5 639.35 611.3 639.41 612.1 639.47 612.9 639.53 613.7 639.59 614.5 639.65 615.3 639.71 616.1 639.77 616.9 639.83 617.7 639.88 618.5 639.93 618.5 639.93 619.3 639.98 620.1 640.03 620.9 640.08 621.7 640.13 622.5 640.19 623.3 640.24 624.1 640.29 624.9 640.34 625.7 640.40 626.5 640.45 627.3 640.50 628.1 640.55 628.9 640.60 629.7 640.66 630.5 640.71 631.3 640.76 632.1 640.80 632.9 640.85 633.7 640.90 634.5 640.94 635.3 640.99 636.1 641.03 636.9 641.07 637.0 641.08 637.7 641.11 638.5 641.15 639.3 641.19 640.0 641.23 640.9 641.27 641.6 641.31 642.5 641.35 643.2 641.38 644.0 641.42 644.8 641.46 645.6 641.49 646.4 641.53 647.2 641.56 648.0 641.59 648.8 641.63 649.6 641.66 650.4 641.69 651.2 641.72 652.0 641.75 652.8 641.78 653.6 641.81 654.4 641.84 655.2 641.87 655.6 641.88 656.0 641.89 656.8 641.92 657.6 641.95 658.4 641.97 659.2 642.00 660.0 642.02 660.8 642.04 661.6 642.07 662.4 642.09 663.2 642.11 664.0 642.14 664.8 642.16 665.6 642.18 666.4 642.20 667.2 642.22 668.0 642.24 668.8 642.26 669.6 642.28 670.4 642.30 671.2 642.32 672.0 642.34 672.8 642.35 673.5 642.37 674.0 642.38 674.4 642.39 675.1 642.40 675.9 642.42 676.7 642.43 677.5 642.45 678.3 642.46 679.1 642.48 679.9 642.49 680.7 642.50 681.5 642.51 682.3 642.53 683.1 642.54 683.9 642.55 684.7 642.56 685.5 642.58 686.3 642.59 687.1 642.60 687.9 642.61 688.7 642.62 689.5 642.63 690.3 642.65 691.1 642.66 691.9 642.67 692.6 642.68 692.7 642.68 693.5 642.69 694.3 642.70 695.1 642.72 695.9 642.73 696.7 642.74 697.5 642.75 698.3 642.76 699.1 642.77 699.9 642.78 700.7 642.80 701.5 642.81 702.3 642.82 703.1 642.83 703.9 642.84 704.7 642.85 705.5 642.86 706.2 642.87 707.0 642.88 707.9 642.89 708.6 642.90 709.4 642.91 710.2 642.92 711.0 642.93 711.0 642.93 711.8 642.94 712.6 642.95 713.4 642.96 714.2 642.97 715.0 642.98 715.8 642.99 716.6 643.00 717.4 643.01 718.2 643.02 719.0 643.02 719.8 643.03 720.6 643.04 721.4 643.05 722.2 643.06 723.0 643.07 723.8 643.08 724.6 643.08 725.4 643.09 726.2 643.10 727.0 643.11 727.8 643.11 728.6 643.12 729.4 643.13 729.6 643.13 730.2 643.13 731.0 643.14 731.8 643.15 732.6 643.15 733.4 643.16 734.2 643.17 735.0 643.17 735.8 643.18 736.6 643.18 737.4 643.19 738.1 643.19 739.0 643.20 739.8 643.20 740.5 643.21 741.3 643.21 742.1 643.22 742.9 643.22 743.7 643.23 744.5 643.23 745.3 643.24 746.1 643.24 746.9 643.25 747.7 643.25 748.5 643.26 749.3 643.26 750.1 643.27 750.9 643.27 751.7 643.28 752.5 643.28 753.3 643.29 754.1 643.29 754.9 643.30 755.7 643.30 756.5 643.31 757.3 643.31 758.1 643.32 758.9 643.32 759.7 643.33 760.0 643.33 760.5 643.33 761.3 643.34 762.1 643.34 762.9 643.35 763.7 643.35 764.5 643.36 765.3 643.37 766.1 643.37 766.9 643.38 767.7 643.38 768.5 643.39 769.3 643.39 770.0 643.40 770.9 643.40 771.6 643.41 772.5 643.41 773.2 643.42 774.0 643.42 774.8 643.43 775.6 643.43 776.4 643.44 777.2 643.45 778.0 643.45 778.8 643.46 779.6 643.46 780.4 643.47 781.2 643.47 782.0 643.48 782.8 643.48 783.6 643.49 784.4 643.49 785.2 643.50 786.0 643.50 786.8 643.51 787.6 643.51 788.4 643.52 789.2 643.52 790.0 643.53 790.0 643.53 790.8 643.54 791.6 643.54 792.4 643.55 793.2 643.55 794.0 643.56 794.8 643.56 795.6 643.57 796.4 643.57 797.2 643.58 798.0 643.58 798.8 643.59 799.6 643.59 800.4 643.60 801.2 643.60 802.0 643.60 802.8 643.61 803.5 643.61 804.4 643.62 805.1 643.62 805.9 643.63 806.7 643.63 807.5 643.64 808.3 643.64 809.1 643.65 809.9 643.65 810.7 643.66 811.5 643.66 812.3 643.67 813.1 643.67 813.9 643.68 814.7 643.69 815.5 643.69 816.3 643.70 817.1 643.70 817.9 643.71 818.7 643.71 819.5 643.72 820.3 643.72 821.0 643.73 824.3 643.76 828.2 643.79 832.2 643.82 836.2 643.86 840.1 643.89 844.1 643.93 848.1 643.97 852.0 644.00 856.0 644.04 860.0 644.08 860.0 644.08 863.9 644.12 867.9 644.16 871.9 644.20 875.8 644.24 879.8 644.28 883.8 644.32 887.7 644.36 891.7 644.40 895.7 644.44 899.6 644.48 900.0 644.48 903.6 644.51 907.6 644.55 911.5 644.60 915.5 644.64 919.5 644.68 923.4 644.72 927.4 644.76 931.4 644.79 935.3 644.82 939.3 644.85 943.3 644.87 946.0 644.88 947.2 644.88 951.2 644.90 955.2 644.91 959.1 644.92 963.1 644.93 967.1 644.94 971.0 644.95 975.0 644.95 979.0 644.96 982.9 644.97 986.9 644.97 990.9 644.98 994.8 644.98 998.8 644.98 1000.0 644.98 1002.8 644.98 1006.7 644.97 1010.7 644.96 1014.7 644.94 1018.6 644.91 1022.6 644.89 1026.6 644.86 1030.5 644.84 1034.5 644.81 1038.5 644.79 1040.0 644.78 1042.4 644.77 1046.4 644.75 1050.4 644.73 1054.3 644.71 1058.3 644.69 1062.3 644.67 1066.2 644.65 1070.2 644.63 1070.2 645.53 1066.2 645.51 1062.3 645.49 1058.3 645.47 1054.3 645.45 1050.4 645.43 1046.4 645.41 1042.4 645.39 1040.0 645.38 1038.5 645.37 1034.5 645.35 1030.5 645.32 1026.6 645.30 1022.6 645.27 1018.6 645.25 1014.7 645.22 1010.7 645.20 1006.7 645.19 1002.8 645.18 1000.0 645.18 998.8 645.18 994.8 645.18 990.9 645.18 986.9 645.19 982.9 645.19 979.0 645.20 975.0 645.21 971.0 645.21 967.1 645.22 963.1 645.23 959.1 645.24 955.2 645.25 951.2 645.26 947.2 645.28 946.0 645.28 943.3 645.29 939.3 645.31 935.3 645.34 931.4 645.37 927.4 645.40 923.4 645.44 919.5 645.48 915.5 645.52 911.5 645.56 907.6 645.61 903.6 645.65 900.0 645.68 899.6 645.68 895.7 645.72 891.7 645.76 887.7 645.80 883.8 645.84 879.8 645.88 875.8 645.92 871.9 645.96 867.9 646.00 863.9 646.04 860.0 646.08 860.0 646.08 856.0 646.12 852.0 646.16 848.1 646.19 844.1 646.23 840.1 646.27 836.2 646.30 832.2 646.34 828.2 646.37 824.3 646.40 821.0 646.43 820.3 646.44 819.5 646.44 818.7 646.45 817.9 646.45 817.1 646.46 816.3 646.46 815.5 646.47 814.7 646.47 813.9 646.48 813.1 646.49 812.3 646.49 811.5 646.50 810.7 646.50 809.9 646.51 809.1 646.51 808.3 646.52 807.5 646.52 806.7 646.53 805.9 646.53 805.1 646.54 804.4 646.54 803.5 646.55 802.8 646.55 802.0 646.56 801.2 646.56 800.4 646.56 799.6 646.57 798.8 646.57 798.0 646.58 797.2 646.58 796.4 646.59 795.6 646.59 794.8 646.60 794.0 646.60 793.2 646.61 792.4 646.61 791.6 646.62 790.8 646.62 790.0 646.63 790.0 646.63 789.2 646.64 788.4 646.64 787.6 646.65 786.8 646.65 786.0 646.66 785.2 646.66 784.4 646.67 783.6 646.67 782.8 646.68 782.0 646.68 781.2 646.69 780.4 646.69 779.6 646.70 778.8 646.70 778.0 646.71 777.2 646.71 776.4 646.72 775.6 646.73 774.8 646.73 774.0 646.74 773.2 646.74 772.5 646.75 771.6 646.75 770.9 646.76 770.0 646.76 769.3 646.77 768.5 646.77 767.7 646.78 766.9 646.78 766.1 646.79 765.3 646.79 764.5 646.80 763.7 646.81 762.9 646.81 762.1 646.82 761.3 646.82 760.5 646.83 760.0 646.83 759.7 646.83 758.9 646.84 758.1 646.84 757.3 646.85 756.5 646.85 755.7 646.86 754.9 646.86 754.1 646.87 753.3 646.87 752.5 646.88 751.7 646.88 750.9 646.89 750.1 646.89 749.3 646.90 748.5 646.90 747.7 646.91 746.9 646.91 746.1 646.92 745.3 646.92 744.5 646.93 743.7 646.93 742.9 646.94 742.1 646.94 741.3 646.95 740.5 646.95 739.8 646.96 739.0 646.96 738.1 646.97 737.4 646.97 736.6 646.98 735.8 646.98 735.0 646.99 734.2 646.99 733.4 647.00 732.6 647.01 731.8 647.01 731.0 647.02 730.2 647.03 729.6 647.03 729.4 647.03 728.6 647.04 727.8 647.05 727.0 647.05 726.2 647.06 725.4 647.07 724.6 647.08 723.8 647.08 723.0 647.09 722.2 647.10 721.4 647.11 720.6 647.12 719.8 647.13 719.0 647.14 718.2 647.14 717.4 647.15 716.6 647.16 715.8 647.17 715.0 647.18 714.2 647.19 713.4 647.20 712.6 647.21 711.8 647.22 711.0 647.23 711.0 647.23 710.2 647.24 709.4 647.25 708.6 647.26 707.9 647.27 707.0 647.28 706.2 647.29 705.5 647.30 704.7 647.31 703.9 647.32 703.1 647.33 702.3 647.34 701.5 647.35 700.7 647.36 699.9 647.38 699.1 647.39 698.3 647.40 697.5 647.41 696.7 647.42 695.9 647.43 695.1 647.44 694.3 647.46 693.5 647.47 692.7 647.48 692.6 647.48 691.9 647.49 691.1 647.50 690.3 647.51 689.5 647.53 688.7 647.54 687.9 647.55 687.1 647.56 686.3 647.57 685.5 647.58 684.7 647.60 683.9 647.61 683.1 647.62 682.3 647.63 681.5 647.65 680.7 647.66 679.9 647.67 679.1 647.68 678.3 647.70 677.5 647.71 676.7 647.73 675.9 647.74 675.1 647.76 674.4 647.77 674.0 647.78 673.5 647.79 672.8 647.81 672.0 647.82 671.2 647.84 670.4 647.86 669.6 647.88 668.8 647.90 668.0 647.92 667.2 647.94 666.4 647.96 665.6 647.98 664.8 648.00 664.0 648.02 663.2 648.05 662.4 648.07 661.6 648.09 660.8 648.12 660.0 648.14 659.2 648.16 658.4 648.19 657.6 648.21 656.8 648.24 656.0 648.27 655.6 648.28 655.2 648.29 654.4 648.32 653.6 648.35 652.8 648.38 652.0 648.41 651.2 648.44 650.4 648.47 649.6 648.50 648.8 648.53 648.0 648.57 647.2 648.60 646.4 648.63 645.6 648.67 644.8 648.70 644.0 648.74 643.2 648.78 642.5 648.81 641.6 648.85 640.9 648.89 640.0 648.93 639.3 648.97 638.5 649.01 637.7 649.05 637.0 649.08 636.9 649.09 636.1 649.13 635.3 649.17 634.5 649.22 633.7 649.26 632.9 649.31 632.1 649.36 631.3 649.40 630.5 649.45 629.7 649.50 628.9 649.56 628.1 649.61 627.3 649.66 626.5 649.71 625.7 649.76 624.9 649.82 624.1 649.87 623.3 649.92 622.5 649.97 621.7 650.03 620.9 650.08 620.1 650.13 619.3 650.18 618.5 650.23 618.5 650.23 617.7 650.28 616.9 650.33 616.1 650.39 615.3 650.45 614.5 650.51 613.7 650.57 612.9 650.63 612.1 650.69 611.3 650.75 610.5 650.81 609.8 650.87 609.0 650.93 608.1 650.99 607.4 651.05 606.6 651.10 605.8 651.15 605.0 651.19 604.2 651.24 603.4 651.27 602.6 651.31 601.8 651.34 601.0 651.36 600.2 651.38 600.0 651.38 599.4 651.39 598.6 651.40 597.8 651.41 597.0 651.43 596.2 651.44 595.4 651.45 594.6 651.45 593.8 651.46 593.0 651.47 592.2 651.47 591.4 651.48 590.6 651.48 590.0 651.48 589.8 651.48 589.0 651.48 588.2 651.47 587.4 651.46 586.6 651.44 585.8 651.43 585.0 651.41 584.2 651.39 583.4 651.37 582.6 651.35 582.0 651.33 581.8 651.33 581.0 651.30 580.2 651.28 579.4 651.25 578.6 651.22 577.9 651.18 577.0 651.15 576.2 651.11 575.5 651.07 574.7 651.03 573.9 650.99 573.1 650.94 572.3 650.90 572.0 650.88 571.5 650.85 570.7 650.80 569.9 650.74 569.1 650.69 568.3 650.63 567.5 650.56 566.7 650.50 565.9 650.43 565.1 650.36 564.3 650.28 563.5 650.21 562.7 650.13 561.9 650.05 561.1 649.96 560.3 649.88Z"/>
<path d="M756.1 725.32 756.9 725.28 757.7 725.24 758.5 725.20 759.3 725.17 760.1 725.13 760.9 725.09 761.7 725.06 762.5 725.02 763.3 724.99 764.1 724.95 764.9 724.92 765.7 724.89 766.5 724.85 767.3 724.82 768.1 724.79 768.9 724.76 769.7 724.73 770.0 724.72 770.5 724.70 771.2 724.67 772.0 724.65 772.9 724.62 773.6 724.59 774.4 724.56 775.2 724.53 776.0 724.50 776.8 724.48 777.6 724.45 778.4 724.43 779.2 724.41 780.0 724.38 780.8 724.36 781.6 724.35 782.4 724.33 783.0 724.32 783.2 724.32 784.0 724.30 784.8 724.29 785.6 724.28 786.4 724.26 787.2 724.25 788.0 724.24 788.8 724.22 789.6 724.21 790.4 724.20 791.2 724.20 792.0 724.19 792.8 724.18 793.6 724.18 794.4 724.17 795.2 724.17 795.6 724.17 796.0 724.17 796.8 724.17 797.6 724.17 798.4 724.18 799.2 724.18 800.0 724.18 800.8 724.19 801.6 724.19 802.4 724.20 803.2 724.21 804.0 724.21 804.8 724.22 805.5 724.23 806.4 724.24 807.1 724.24 807.9 724.25 808.7 724.26 809.5 724.27 810.0 724.27 810.3 724.27 811.1 724.28 811.9 724.29 812.7 724.30 813.5 724.31 814.3 724.32 815.1 724.33 815.9 724.34 816.7 724.35 817.5 724.37 818.3 724.38 819.1 724.39 819.9 724.40 820.7 724.41 821.5 724.42 822.3 724.44 823.1 724.45 823.9 724.46 824.7 724.47 825.0 724.47 825.5 724.48 826.3 724.48 827.1 724.49 827.9 724.50 828.7 724.51 829.5 724.52 830.3 724.53 831.1 724.54 831.9 724.55 832.7 724.56 833.5 724.57 834.3 724.58 835.1 724.58 835.9 724.59 836.6 724.60 837.5 724.60 838.2 724.61 839.0 724.61 839.8 724.62 840.0 724.62 840.6 724.62 841.4 724.63 842.2 724.63 843.0 724.63 843.8 724.64 844.6 724.64 845.4 724.65 846.2 724.65 847.0 724.65 847.8 724.66 848.6 724.66 849.4 724.66 850.2 724.66 851.0 724.67 851.8 724.67 852.6 724.67 853.4 724.67 854.2 724.67 855.0 724.67 855.8 724.67 856.6 724.67 857.4 724.67 858.2 724.67 859.0 724.67 859.8 724.67 860.6 724.67 861.4 724.67 862.2 724.67 863.0 724.67 863.8 724.67 864.6 724.67 865.4 724.67 866.2 724.67 867.0 724.67 867.8 724.67 868.5 724.67 869.4 724.67 870.0 724.67 870.1 724.67 871.0 724.67 871.7 724.67 872.5 724.67 873.3 724.67 874.1 724.66 874.9 724.66 875.7 724.66 876.5 724.65 877.3 724.65 878.1 724.65 878.9 724.64 879.7 724.64 880.5 724.63 881.3 724.63 882.1 724.62 882.9 724.62 883.7 724.61 884.5 724.61 885.3 724.60 886.1 724.59 886.9 724.59 887.7 724.58 888.5 724.58 889.3 724.57 890.0 724.57 890.1 724.57 890.9 724.56 891.7 724.56 892.5 724.56 893.3 724.55 894.1 724.55 894.9 724.54 895.7 724.53 896.5 724.53 897.3 724.52 898.1 724.52 898.9 724.51 899.7 724.51 900.5 724.50 901.2 724.50 902.0 724.49 902.9 724.49 903.6 724.48 904.4 724.47 905.0 724.47 905.2 724.47 906.0 724.46 906.8 724.45 907.6 724.45 908.4 724.44 909.2 724.43 910.0 724.42 910.8 724.42 911.6 724.41 912.4 724.40 913.2 724.39 914.0 724.39 914.8 724.38 915.6 724.38 916.4 724.37 917.2 724.37 918.0 724.37 918.8 724.37 919.6 724.37 920.4 724.37 921.2 724.37 922.0 724.38 922.8 724.38 923.6 724.38 924.4 724.38 925.2 724.39 926.0 724.39 926.8 724.39 927.6 724.40 928.4 724.40 929.2 724.40 930.0 724.41 930.8 724.41 931.6 724.42 932.0 724.42 932.4 724.42 933.2 724.43 934.0 724.44 934.8 724.45 935.5 724.46 936.4 724.47 937.1 724.49 937.9 724.50 938.7 724.52 939.5 724.54 940.3 724.56 941.1 724.58 941.9 724.60 942.7 724.62 943.5 724.64 944.3 724.67 945.1 724.69 945.9 724.71 946.7 724.73 947.5 724.75 948.3 724.78 949.1 724.80 949.9 724.82 950.0 724.82 950.7 724.84 951.5 724.86 952.3 724.88 953.1 724.90 953.9 724.93 954.7 724.95 955.5 724.97 956.3 725.00 957.1 725.02 957.9 725.05 958.7 725.07 959.5 725.10 960.3 725.12 961.1 725.15 961.9 725.18 962.7 725.20 963.5 725.23 964.3 725.25 965.1 725.28 965.9 725.30 966.6 725.32 967.5 725.35 968.2 725.37 969.0 725.39 969.8 725.42 970.0 725.42 970.6 725.44 971.4 725.46 972.2 725.48 973.0 725.50 973.8 725.52 974.6 725.54 975.4 725.57 976.2 725.59 977.0 725.61 977.8 725.63 978.6 725.65 979.4 725.67 980.2 725.69 981.0 725.71 981.8 725.73 982.6 725.75 983.4 725.77 984.2 725.79 985.0 725.81 985.8 725.83 986.6 725.84 987.4 725.86 988.2 725.88 989.0 725.90 989.8 725.92 990.0 725.92 990.6 725.93 991.4 725.95 992.2 725.97 993.0 725.98 993.8 726.00 994.6 726.01 995.4 726.03 996.2 726.04 997.0 726.06 997.8 726.07 998.5 726.09 999.4 726.10 1000.1 726.12 1001.0 726.13 1001.7 726.15 1002.5 726.16 1003.3 726.18 1004.1 726.19 1004.9 726.20 1005.7 726.22 1006.5 726.23 1007.3 726.25 1008.1 726.26 1008.9 726.27 1009.7 726.29 1010.5 726.30 1011.3 726.32 1012.1 726.33 1012.9 726.34 1013.7 726.36 1014.4 726.37 1014.5 726.37 1015.3 726.39 1016.1 726.40 1020.0 726.47 1023.8 726.54 1027.7 726.60 1031.6 726.67 1035.0 726.72 1035.4 726.73 1039.3 726.78 1043.2 726.84 1047.0 726.89 1050.9 726.94 1053.0 726.97 1054.8 726.99 1058.6 727.04 1062.5 727.08 1066.4 727.13 1070.2 727.17 1074.1 727.21 1075.0 727.22 1078.0 727.25 1081.8 727.29 1085.7 727.32 1089.6 727.36 1093.4 727.39 1097.3 727.42 1097.3 728.62 1093.4 728.65 1089.6 728.68 1085.7 728.72 1081.8 728.75 1078.0 728.79 1075.0 728.82 1074.1 728.83 1070.2 728.87 1066.4 728.91 1062.5 728.96 1058.6 729.00 1054.8 729.05 1053.0 729.07 1050.9 729.10 1047.0 729.15 1043.2 729.20 1039.3 729.26 1035.4 729.31 1035.0 729.32 1031.6 729.37 1027.7 729.44 1023.8 729.50 1020.0 729.57 1016.1 729.64 1015.3 729.65 1014.5 729.67 1014.4 729.67 1013.7 729.68 1012.9 729.70 1012.1 729.71 1011.3 729.72 1010.5 729.74 1009.7 729.75 1008.9 729.77 1008.1 729.78 1007.3 729.79 1006.5 729.81 1005.7 729.82 1004.9 729.84 1004.1 729.85 1003.3 729.86 1002.5 729.88 1001.7 729.89 1001.0 729.91 1000.1 729.92 999.4 729.94 998.5 729.95 997.8 729.97 997.0 729.98 996.2 730.00 995.4 730.01 994.6 730.03 993.8 730.04 993.0 730.06 992.2 730.07 991.4 730.09 990.6 730.11 990.0 730.12 989.8 730.12 989.0 730.14 988.2 730.16 987.4 730.18 986.6 730.20 985.8 730.21 985.0 730.23 984.2 730.25 983.4 730.27 982.6 730.29 981.8 730.31 981.0 730.33 980.2 730.35 979.4 730.37 978.6 730.39 977.8 730.41 977.0 730.43 976.2 730.45 975.4 730.47 974.6 730.50 973.8 730.52 973.0 730.54 972.2 730.56 971.4 730.58 970.6 730.60 970.0 730.62 969.8 730.62 969.0 730.65 968.2 730.67 967.5 730.69 966.6 730.72 965.9 730.74 965.1 730.76 964.3 730.79 963.5 730.81 962.7 730.84 961.9 730.86 961.1 730.89 960.3 730.92 959.5 730.94 958.7 730.97 957.9 730.99 957.1 731.02 956.3 731.04 955.5 731.07 954.7 731.09 953.9 731.11 953.1 731.14 952.3 731.16 951.5 731.18 950.7 731.20 950.0 731.22 949.9 731.22 949.1 731.24 948.3 731.26 947.5 731.29 946.7 731.31 945.9 731.33 945.1 731.35 944.3 731.37 943.5 731.40 942.7 731.42 941.9 731.44 941.1 731.46 940.3 731.48 939.5 731.50 938.7 731.52 937.9 731.54 937.1 731.55 936.4 731.57 935.5 731.58 934.8 731.59 934.0 731.60 933.2 731.61 932.4 731.62 932.0 731.62 931.6 731.62 930.8 731.63 930.0 731.63 929.2 731.64 928.4 731.64 927.6 731.64 926.8 731.65 926.0 731.65 925.2 731.65 924.4 731.66 923.6 731.66 922.8 731.66 922.0 731.66 921.2 731.67 920.4 731.67 919.6 731.67 918.8 731.67 918.0 731.67 917.2 731.67 916.4 731.67 915.6 731.66 914.8 731.66 914.0 731.65 913.2 731.65 912.4 731.64 911.6 731.63 910.8 731.62 910.0 731.62 909.2 731.61 908.4 731.60 907.6 731.59 906.8 731.59 906.0 731.58 905.2 731.57 905.0 731.57 904.4 731.57 903.6 731.56 902.9 731.55 902.0 731.55 901.2 731.54 900.5 731.54 899.7 731.53 898.9 731.53 898.1 731.52 897.3 731.52 896.5 731.51 895.7 731.51 894.9 731.50 894.1 731.49 893.3 731.49 892.5 731.48 891.7 731.48 890.9 731.48 890.1 731.47 890.0 731.47 889.3 731.47 888.5 731.46 887.7 731.46 886.9 731.45 886.1 731.45 885.3 731.44 884.5 731.43 883.7 731.43 882.9 731.42 882.1 731.42 881.3 731.41 880.5 731.41 879.7 731.40 878.9 731.40 878.1 731.39 877.3 731.39 876.5 731.39 875.7 731.38 874.9 731.38 874.1 731.38 873.3 731.37 872.5 731.37 871.7 731.37 871.0 731.37 870.1 731.37 870.0 731.37 869.4 731.37 868.5 731.37 867.8 731.37 867.0 731.37 866.2 731.37 865.4 731.37 864.6 731.37 863.8 731.37 863.0 731.37 862.2 731.37 861.4 731.37 860.6 731.37 859.8 731.37 859.0 731.37 858.2 731.37 857.4 731.37 856.6 731.37 855.8 731.37 855.0 731.37 854.2 731.37 853.4 731.37 852.6 731.37 851.8 731.37 851.0 731.37 850.2 731.38 849.4 731.38 848.6 731.38 847.8 731.38 847.0 731.39 846.2 731.39 845.4 731.39 844.6 731.40 843.8 731.40 843.0 731.41 842.2 731.41 841.4 731.41 840.6 731.42 840.0 731.42 839.8 731.42 839.0 731.43 838.2 731.43 837.5 731.44 836.6 731.44 835.9 731.45 835.1 731.46 834.3 731.46 833.5 731.47 832.7 731.48 831.9 731.49 831.1 731.50 830.3 731.51 829.5 731.52 828.7 731.53 827.9 731.54 827.1 731.55 826.3 731.56 825.5 731.56 825.0 731.57 824.7 731.57 823.9 731.58 823.1 731.59 822.3 731.60 821.5 731.62 820.7 731.63 819.9 731.64 819.1 731.65 818.3 731.66 817.5 731.67 816.7 731.69 815.9 731.70 815.1 731.71 814.3 731.72 813.5 731.73 812.7 731.74 811.9 731.75 811.1 731.76 810.3 731.77 810.0 731.77 809.5 731.77 808.7 731.78 807.9 731.79 807.1 731.80 806.4 731.80 805.5 731.81 804.8 731.82 804.0 731.83 803.2 731.83 802.4 731.84 801.6 731.85 800.8 731.85 800.0 731.86 799.2 731.86 798.4 731.86 797.6 731.87 796.8 731.87 796.0 731.87 795.6 731.87 795.2 731.87 794.4 731.87 793.6 731.86 792.8 731.86 792.0 731.85 791.2 731.84 790.4 731.84 789.6 731.83 788.8 731.82 788.0 731.80 787.2 731.79 786.4 731.78 785.6 731.76 784.8 731.75 784.0 731.74 783.2 731.72 783.0 731.72 782.4 731.71 781.6 731.69 780.8 731.68 780.0 731.66 779.2 731.63 778.4 731.61 777.6 731.59 776.8 731.56 776.0 731.54 775.2 731.51 774.4 731.48 773.6 731.45 772.9 731.42 772.0 731.39 771.2 731.37 770.5 731.34 770.0 731.32 769.7 731.31 768.9 731.28 768.1 731.25 767.3 731.22 766.5 731.19 765.7 731.15 764.9 731.12 764.1 731.09 763.3 731.05 762.5 731.02 761.7 730.98 760.9 730.95 760.1 730.91 759.3 730.87 758.5 730.84 757.7 730.80 756.9 730.76 756.1 730.72Z"/>
</g>
<g fill="#000">
<circle cx="644.0" cy="64.30" r="7.5"/>
<circle cx="310.0" cy="147.24" r="7.5"/>
<circle cx="316.0" cy="230.18" r="7.5"/>
<circle cx="414.3" cy="313.12" r="7.5"/>
<circle cx="469.5" cy="396.06" r="7.5"/>
<circle cx="587.3" cy="479.00" r="7.5"/>
<circle cx="612.8" cy="561.94" r="7.5"/>
<circle cx="595.5" cy="644.88" r="7.5"/>
<circle cx="870.2" cy="727.82" r="7.5"/>
</g>
</g>
<g stroke="#262626" stroke-width="2.84" fill="none">
<line x1="221.27" y1="64.50" x2="228.6" y2="64.50"/>
<line x1="221.27" y1="147.44" x2="228.6" y2="147.44"/>
<line x1="221.27" y1="230.38" x2="228.6" y2="230.38"/>
<line x1="221.27" y1="313.32" x2="228.6" y2="313.32"/>
<line x1="221.27" y1="396.26" x2="228.6" y2="396.26"/>
<line x1="221.27" y1="479.20" x2="228.6" y2="479.20"/>
<line x1="221.27" y1="562.14" x2="228.6" y2="562.14"/>
<line x1="221.27" y1="645.08" x2="228.6" y2="645.08"/>
<line x1="221.27" y1="728.02" x2="228.6" y2="728.02"/>
<line x1="230.10" y1="777.75" x2="230.10" y2="785.08"/>
<line x1="526.17" y1="777.75" x2="526.17" y2="785.08"/>
<line x1="822.25" y1="777.75" x2="822.25" y2="785.08"/>
<line x1="1118.32" y1="777.75" x2="1118.32" y2="785.08"/>
<line x1="1414.40" y1="777.75" x2="1414.40" y2="785.08"/>
<line x1="1710.47" y1="777.75" x2="1710.47" y2="785.08"/>
</g>
<g class="ax" text-anchor="end">
<text x="215.3" y="73.05">fastglm.qr.fpiv</text>
<text x="215.3" y="155.99">fastglm.LDLT</text>
<text x="215.3" y="238.93">fastglm.LLT</text>
<text x="215.3" y="321.87">fastglm.qr</text>
<text x="215.3" y="404.81">fastglm.qr.cpiv</text>
<text x="215.3" y="487.75">speedglm.qr</text>
<text x="215.3" y="570.69">speedglm.chol</text>
<text x="215.3" y="653.63">speedglm.eigen</text>
<text x="215.3" y="736.57">glm.fit</text>
</g>
<g class="ax" text-anchor="middle">
<text x="230.10" y="807.9">0</text>
<text x="526.17" y="807.9">250</text>
<text x="822.25" y="807.9">500</text>
<text x="1118.32" y="807.9">750</text>
<text x="1414.40" y="807.9">1000</text>
<text x="1710.47" y="807.9">1250</text>
</g>
<text class="ttl" text-anchor="middle" x="970.7" y="842.5">Time [milliseconds]</text>
</svg>
</body>
</html>
